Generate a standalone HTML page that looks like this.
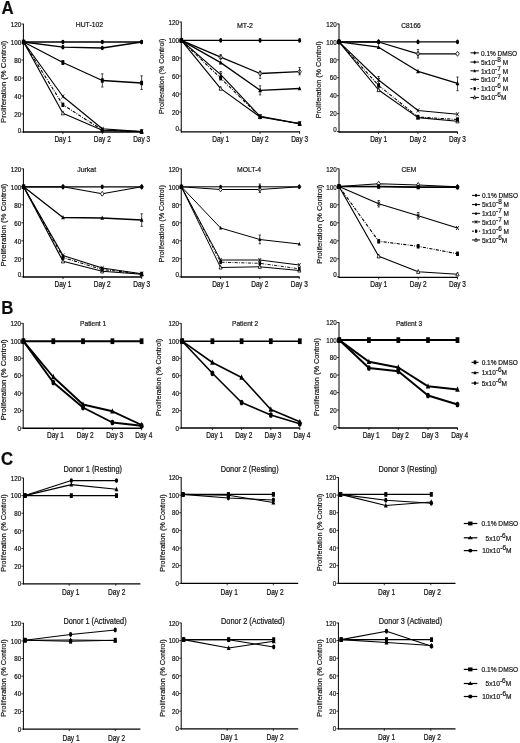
<!DOCTYPE html>
<html><head><meta charset="utf-8"><style>
html,body{margin:0;padding:0;background:#fff;}
body{width:520px;height:743px;overflow:hidden;}
svg{display:block;filter:grayscale(1);}
text{font-family:"Liberation Sans", sans-serif;fill:#111;stroke:#111;stroke-width:0.18px;}
</style></head><body>
<svg width="520" height="743" viewBox="0 0 520 743">
<defs><filter id="bl" x="0" y="0" width="100%" height="100%" filterUnits="userSpaceOnUse"><feGaussianBlur stdDeviation="0.4"/></filter></defs>
<rect width="520" height="743" fill="#fff"/>
<g filter="url(#bl)">
<text x="0" y="0" transform="translate(1.60,13.60) scale(1,1.08)" font-size="16.8" text-anchor="start" font-weight="bold" >A</text>
<text x="0" y="0" transform="translate(1.20,313.60) scale(1,1.08)" font-size="16.8" text-anchor="start" font-weight="bold" >B</text>
<text x="0" y="0" transform="translate(1.00,465.00) scale(1,1.08)" font-size="16.8" text-anchor="start" font-weight="bold" >C</text>
<line x1="23.40" y1="23.70" x2="23.40" y2="132.60" stroke="#000" stroke-width="1.0"/>
<line x1="21.40" y1="24.00" x2="23.40" y2="24.00" stroke="#000" stroke-width="0.8"/>
<text x="0" y="0" transform="translate(21.20,26.71) scale(1,1.2)" font-size="6.3" text-anchor="end" font-weight="normal" >120</text>
<line x1="21.40" y1="42.00" x2="23.40" y2="42.00" stroke="#000" stroke-width="0.8"/>
<text x="0" y="0" transform="translate(21.20,44.71) scale(1,1.2)" font-size="6.3" text-anchor="end" font-weight="normal" >100</text>
<line x1="21.40" y1="60.00" x2="23.40" y2="60.00" stroke="#000" stroke-width="0.8"/>
<text x="0" y="0" transform="translate(21.20,62.71) scale(1,1.2)" font-size="6.3" text-anchor="end" font-weight="normal" >80</text>
<line x1="21.40" y1="78.00" x2="23.40" y2="78.00" stroke="#000" stroke-width="0.8"/>
<text x="0" y="0" transform="translate(21.20,80.71) scale(1,1.2)" font-size="6.3" text-anchor="end" font-weight="normal" >60</text>
<line x1="21.40" y1="96.00" x2="23.40" y2="96.00" stroke="#000" stroke-width="0.8"/>
<text x="0" y="0" transform="translate(21.20,98.71) scale(1,1.2)" font-size="6.3" text-anchor="end" font-weight="normal" >40</text>
<line x1="21.40" y1="114.00" x2="23.40" y2="114.00" stroke="#000" stroke-width="0.8"/>
<text x="0" y="0" transform="translate(21.20,116.71) scale(1,1.2)" font-size="6.3" text-anchor="end" font-weight="normal" >20</text>
<line x1="21.40" y1="132.00" x2="23.40" y2="132.00" stroke="#000" stroke-width="0.8"/>
<text x="0" y="0" transform="translate(21.20,132.51) scale(1,1.2)" font-size="6.3" text-anchor="end" font-weight="normal" >0</text>
<line x1="23.00" y1="132.00" x2="141.90" y2="132.00" stroke="#000" stroke-width="1.3"/>
<line x1="62.90" y1="132.00" x2="62.90" y2="134.00" stroke="#000" stroke-width="0.8"/>
<text x="0" y="0" transform="translate(62.90,141.80) scale(1,1.3)" font-size="6.5" text-anchor="middle" font-weight="normal" >Day 1</text>
<line x1="102.30" y1="132.00" x2="102.30" y2="134.00" stroke="#000" stroke-width="0.8"/>
<text x="0" y="0" transform="translate(102.30,141.80) scale(1,1.3)" font-size="6.5" text-anchor="middle" font-weight="normal" >Day 2</text>
<line x1="141.60" y1="132.00" x2="141.60" y2="134.00" stroke="#000" stroke-width="0.8"/>
<text x="0" y="0" transform="translate(141.60,141.80) scale(1,1.3)" font-size="6.5" text-anchor="middle" font-weight="normal" >Day 3</text>
<text x="0" y="0" transform="translate(75.80,27.40) scale(1,1.12)" font-size="7.0" text-anchor="start" font-weight="normal" textLength="27.20" lengthAdjust="spacingAndGlyphs" >HUT-102</text>
<text x="-122.90" y="0" font-size="6.5" text-anchor="start" textLength="82.10" lengthAdjust="spacingAndGlyphs" transform="translate(5.93,0) rotate(-90)">Proliferation (% Control)</text>
<polyline points="23.60,42.00 62.90,42.00 102.30,42.00 141.60,42.00" fill="none" stroke="#000" stroke-width="1.3" stroke-linejoin="round"/>
<polyline points="23.60,42.00 62.90,47.20 102.30,48.00 141.60,42.00" fill="none" stroke="#000" stroke-width="1.3" stroke-linejoin="round"/>
<polyline points="23.60,42.00 62.90,62.50 102.30,80.50 141.60,83.00" fill="none" stroke="#000" stroke-width="1.3" stroke-linejoin="round"/>
<polyline points="23.60,42.00 62.90,96.50 102.30,128.80 141.60,131.60" fill="none" stroke="#000" stroke-width="1.15" stroke-linejoin="round"/>
<polyline points="23.60,42.00 62.90,104.80 102.30,130.00 141.60,131.60" fill="none" stroke="#000" stroke-width="1.1" stroke-linejoin="round" stroke-dasharray="3.2,1.3,0.8,1.3"/>
<polyline points="23.60,42.00 62.90,113.20 102.30,130.20 141.60,131.60" fill="none" stroke="#000" stroke-width="1.15" stroke-linejoin="round"/>
<polygon points="23.60,39.71 25.23,43.66 21.97,43.66" fill="#fff" stroke="#000" stroke-width="0.8"/>
<polygon points="62.90,110.91 64.53,114.86 61.27,114.86" fill="#fff" stroke="#000" stroke-width="0.8"/>
<polygon points="102.30,127.91 103.93,131.86 100.67,131.86" fill="#fff" stroke="#000" stroke-width="0.8"/>
<polygon points="141.60,129.31 143.23,133.26 139.97,133.26" fill="#fff" stroke="#000" stroke-width="0.8"/>
<ellipse cx="23.60" cy="42.00" rx="1.53" ry="2.34" fill="#000"/>
<ellipse cx="62.90" cy="42.00" rx="1.53" ry="2.34" fill="#000"/>
<ellipse cx="102.30" cy="42.00" rx="1.53" ry="2.34" fill="#000"/>
<ellipse cx="141.60" cy="42.00" rx="1.53" ry="2.34" fill="#000"/>
<ellipse cx="23.60" cy="42.00" rx="1.53" ry="2.34" fill="#000"/>
<ellipse cx="62.90" cy="47.20" rx="1.53" ry="2.34" fill="#000"/>
<ellipse cx="102.30" cy="48.00" rx="1.53" ry="2.34" fill="#000"/>
<ellipse cx="141.60" cy="42.00" rx="1.53" ry="2.34" fill="#000"/>
<rect x="22.16" y="39.79" width="2.89" height="4.42" fill="#000"/>
<rect x="61.45" y="60.29" width="2.89" height="4.42" fill="#000"/>
<rect x="100.86" y="78.29" width="2.89" height="4.42" fill="#000"/>
<rect x="140.16" y="80.79" width="2.89" height="4.42" fill="#000"/>
<line x1="102.30" y1="73.80" x2="102.30" y2="87.00" stroke="#000" stroke-width="0.7"/>
<line x1="101.10" y1="73.80" x2="103.50" y2="73.80" stroke="#000" stroke-width="0.7"/>
<line x1="101.10" y1="87.00" x2="103.50" y2="87.00" stroke="#000" stroke-width="0.7"/>
<line x1="141.60" y1="75.80" x2="141.60" y2="89.50" stroke="#000" stroke-width="0.7"/>
<line x1="140.40" y1="75.80" x2="142.80" y2="75.80" stroke="#000" stroke-width="0.7"/>
<line x1="140.40" y1="89.50" x2="142.80" y2="89.50" stroke="#000" stroke-width="0.7"/>
<line x1="62.90" y1="60.50" x2="62.90" y2="64.50" stroke="#000" stroke-width="0.7"/>
<line x1="61.70" y1="60.50" x2="64.10" y2="60.50" stroke="#000" stroke-width="0.7"/>
<line x1="61.70" y1="64.50" x2="64.10" y2="64.50" stroke="#000" stroke-width="0.7"/>
<path d="M22.24,39.92L24.96,44.08M24.96,39.92L22.24,44.08" stroke="#000" stroke-width="0.8"/>
<path d="M61.54,94.42L64.26,98.58M64.26,94.42L61.54,98.58" stroke="#000" stroke-width="0.8"/>
<path d="M100.94,126.72L103.66,130.88M103.66,126.72L100.94,130.88" stroke="#000" stroke-width="0.8"/>
<path d="M140.24,129.52L142.96,133.68M142.96,129.52L140.24,133.68" stroke="#000" stroke-width="0.8"/>
<rect x="22.16" y="39.79" width="2.89" height="4.42" fill="#000"/>
<rect x="61.45" y="102.59" width="2.89" height="4.42" fill="#000"/>
<rect x="100.86" y="127.79" width="2.89" height="4.42" fill="#000"/>
<rect x="140.16" y="129.39" width="2.89" height="4.42" fill="#000"/>
<rect x="21.90" y="40.00" width="3.4" height="4.0" fill="#000"/>
<line x1="181.25" y1="21.70" x2="181.25" y2="132.50" stroke="#000" stroke-width="1.0"/>
<line x1="179.25" y1="22.00" x2="181.25" y2="22.00" stroke="#000" stroke-width="0.8"/>
<text x="0" y="0" transform="translate(179.05,24.71) scale(1,1.2)" font-size="6.3" text-anchor="end" font-weight="normal" >120</text>
<line x1="179.25" y1="40.00" x2="181.25" y2="40.00" stroke="#000" stroke-width="0.8"/>
<text x="0" y="0" transform="translate(179.05,42.71) scale(1,1.2)" font-size="6.3" text-anchor="end" font-weight="normal" >100</text>
<line x1="179.25" y1="58.00" x2="181.25" y2="58.00" stroke="#000" stroke-width="0.8"/>
<text x="0" y="0" transform="translate(179.05,60.71) scale(1,1.2)" font-size="6.3" text-anchor="end" font-weight="normal" >80</text>
<line x1="179.25" y1="76.00" x2="181.25" y2="76.00" stroke="#000" stroke-width="0.8"/>
<text x="0" y="0" transform="translate(179.05,78.71) scale(1,1.2)" font-size="6.3" text-anchor="end" font-weight="normal" >60</text>
<line x1="179.25" y1="94.00" x2="181.25" y2="94.00" stroke="#000" stroke-width="0.8"/>
<text x="0" y="0" transform="translate(179.05,96.71) scale(1,1.2)" font-size="6.3" text-anchor="end" font-weight="normal" >40</text>
<line x1="179.25" y1="112.00" x2="181.25" y2="112.00" stroke="#000" stroke-width="0.8"/>
<text x="0" y="0" transform="translate(179.05,114.71) scale(1,1.2)" font-size="6.3" text-anchor="end" font-weight="normal" >20</text>
<line x1="179.25" y1="130.00" x2="181.25" y2="130.00" stroke="#000" stroke-width="0.8"/>
<text x="0" y="0" transform="translate(179.05,130.51) scale(1,1.2)" font-size="6.3" text-anchor="end" font-weight="normal" >0</text>
<line x1="180.85" y1="131.90" x2="300.00" y2="131.90" stroke="#000" stroke-width="1.3"/>
<line x1="220.70" y1="131.90" x2="220.70" y2="133.90" stroke="#000" stroke-width="0.8"/>
<text x="0" y="0" transform="translate(220.70,141.70) scale(1,1.3)" font-size="6.5" text-anchor="middle" font-weight="normal" >Day 1</text>
<line x1="260.10" y1="131.90" x2="260.10" y2="133.90" stroke="#000" stroke-width="0.8"/>
<text x="0" y="0" transform="translate(260.10,141.70) scale(1,1.3)" font-size="6.5" text-anchor="middle" font-weight="normal" >Day 2</text>
<line x1="299.60" y1="131.90" x2="299.60" y2="133.90" stroke="#000" stroke-width="0.8"/>
<text x="0" y="0" transform="translate(299.60,141.70) scale(1,1.3)" font-size="6.5" text-anchor="middle" font-weight="normal" >Day 3</text>
<text x="0" y="0" transform="translate(237.00,27.50) scale(1,1.12)" font-size="7.0" text-anchor="start" font-weight="normal" textLength="16.00" lengthAdjust="spacingAndGlyphs" >MT-2</text>
<text x="-114.10" y="0" font-size="6.5" text-anchor="start" textLength="75.35" lengthAdjust="spacingAndGlyphs" transform="translate(164.03,0) rotate(-90)">Proliferation (% Control)</text>
<polyline points="181.40,40.40 220.70,40.40 260.10,40.40 299.60,40.40" fill="none" stroke="#000" stroke-width="1.3" stroke-linejoin="round"/>
<polyline points="181.40,40.40 220.70,57.20 260.10,73.50 299.60,71.70" fill="none" stroke="#000" stroke-width="1.3" stroke-linejoin="round"/>
<polyline points="181.40,40.40 220.70,62.60 260.10,90.30 299.60,88.50" fill="none" stroke="#000" stroke-width="1.3" stroke-linejoin="round"/>
<polyline points="181.40,40.40 220.70,74.60 260.10,116.30 299.60,123.60" fill="none" stroke="#000" stroke-width="1.15" stroke-linejoin="round"/>
<polyline points="181.40,40.40 220.70,78.20 260.10,116.60 299.60,123.60" fill="none" stroke="#000" stroke-width="1.1" stroke-linejoin="round" stroke-dasharray="3.2,1.3,0.8,1.3"/>
<polyline points="181.40,40.40 220.70,88.60 260.10,117.00 299.60,123.80" fill="none" stroke="#000" stroke-width="1.15" stroke-linejoin="round"/>
<polygon points="181.40,37.90 183.17,40.40 181.40,42.90 179.63,40.40" fill="#fff" stroke="#000" stroke-width="0.8"/>
<polygon points="220.70,54.70 222.47,57.20 220.70,59.70 218.93,57.20" fill="#fff" stroke="#000" stroke-width="0.8"/>
<polygon points="260.10,71.00 261.87,73.50 260.10,76.00 258.33,73.50" fill="#fff" stroke="#000" stroke-width="0.8"/>
<polygon points="299.60,69.20 301.37,71.70 299.60,74.20 297.83,71.70" fill="#fff" stroke="#000" stroke-width="0.8"/>
<polygon points="181.40,38.11 183.03,42.06 179.77,42.06" fill="#fff" stroke="#000" stroke-width="0.8"/>
<polygon points="220.70,86.31 222.33,90.26 219.07,90.26" fill="#fff" stroke="#000" stroke-width="0.8"/>
<polygon points="260.10,114.71 261.73,118.66 258.47,118.66" fill="#fff" stroke="#000" stroke-width="0.8"/>
<polygon points="299.60,121.51 301.23,125.46 297.97,125.46" fill="#fff" stroke="#000" stroke-width="0.8"/>
<ellipse cx="181.40" cy="40.40" rx="1.53" ry="2.34" fill="#000"/>
<ellipse cx="220.70" cy="40.40" rx="1.53" ry="2.34" fill="#000"/>
<ellipse cx="260.10" cy="40.40" rx="1.53" ry="2.34" fill="#000"/>
<ellipse cx="299.60" cy="40.40" rx="1.53" ry="2.34" fill="#000"/>
<line x1="220.70" y1="54.70" x2="220.70" y2="58.80" stroke="#000" stroke-width="0.7"/>
<line x1="219.50" y1="54.70" x2="221.90" y2="54.70" stroke="#000" stroke-width="0.7"/>
<line x1="219.50" y1="58.80" x2="221.90" y2="58.80" stroke="#000" stroke-width="0.7"/>
<line x1="260.10" y1="71.10" x2="260.10" y2="78.40" stroke="#000" stroke-width="0.7"/>
<line x1="258.90" y1="71.10" x2="261.30" y2="71.10" stroke="#000" stroke-width="0.7"/>
<line x1="258.90" y1="78.40" x2="261.30" y2="78.40" stroke="#000" stroke-width="0.7"/>
<line x1="299.60" y1="67.50" x2="299.60" y2="74.80" stroke="#000" stroke-width="0.7"/>
<line x1="298.40" y1="67.50" x2="300.80" y2="67.50" stroke="#000" stroke-width="0.7"/>
<line x1="298.40" y1="74.80" x2="300.80" y2="74.80" stroke="#000" stroke-width="0.7"/>
<polygon points="181.40,37.83 183.24,42.27 179.56,42.27" fill="#000"/>
<polygon points="220.70,60.03 222.54,64.47 218.86,64.47" fill="#000"/>
<polygon points="260.10,87.73 261.94,92.17 258.26,92.17" fill="#000"/>
<polygon points="299.60,85.93 301.44,90.37 297.76,90.37" fill="#000"/>
<line x1="260.10" y1="85.80" x2="260.10" y2="94.90" stroke="#000" stroke-width="0.7"/>
<line x1="258.90" y1="85.80" x2="261.30" y2="85.80" stroke="#000" stroke-width="0.7"/>
<line x1="258.90" y1="94.90" x2="261.30" y2="94.90" stroke="#000" stroke-width="0.7"/>
<path d="M180.04,38.32L182.76,42.48M182.76,38.32L180.04,42.48" stroke="#000" stroke-width="0.8"/>
<path d="M219.34,72.52L222.06,76.68M222.06,72.52L219.34,76.68" stroke="#000" stroke-width="0.8"/>
<path d="M258.74,114.22L261.46,118.38M261.46,114.22L258.74,118.38" stroke="#000" stroke-width="0.8"/>
<path d="M298.24,121.52L300.96,125.68M300.96,121.52L298.24,125.68" stroke="#000" stroke-width="0.8"/>
<line x1="220.70" y1="71.50" x2="220.70" y2="78.00" stroke="#000" stroke-width="0.7"/>
<line x1="219.50" y1="71.50" x2="221.90" y2="71.50" stroke="#000" stroke-width="0.7"/>
<line x1="219.50" y1="78.00" x2="221.90" y2="78.00" stroke="#000" stroke-width="0.7"/>
<rect x="179.96" y="38.19" width="2.89" height="4.42" fill="#000"/>
<rect x="219.25" y="75.99" width="2.89" height="4.42" fill="#000"/>
<rect x="258.66" y="114.39" width="2.89" height="4.42" fill="#000"/>
<rect x="298.16" y="121.39" width="2.89" height="4.42" fill="#000"/>
<rect x="179.70" y="38.40" width="3.4" height="4.0" fill="#000"/>
<line x1="339.00" y1="23.66" x2="339.00" y2="132.60" stroke="#000" stroke-width="1.0"/>
<line x1="337.00" y1="23.96" x2="339.00" y2="23.96" stroke="#000" stroke-width="0.8"/>
<text x="0" y="0" transform="translate(336.80,26.67) scale(1,1.2)" font-size="6.3" text-anchor="end" font-weight="normal" >120</text>
<line x1="337.00" y1="41.90" x2="339.00" y2="41.90" stroke="#000" stroke-width="0.8"/>
<text x="0" y="0" transform="translate(336.80,44.61) scale(1,1.2)" font-size="6.3" text-anchor="end" font-weight="normal" >100</text>
<line x1="337.00" y1="59.84" x2="339.00" y2="59.84" stroke="#000" stroke-width="0.8"/>
<text x="0" y="0" transform="translate(336.80,62.55) scale(1,1.2)" font-size="6.3" text-anchor="end" font-weight="normal" >80</text>
<line x1="337.00" y1="77.78" x2="339.00" y2="77.78" stroke="#000" stroke-width="0.8"/>
<text x="0" y="0" transform="translate(336.80,80.49) scale(1,1.2)" font-size="6.3" text-anchor="end" font-weight="normal" >60</text>
<line x1="337.00" y1="95.72" x2="339.00" y2="95.72" stroke="#000" stroke-width="0.8"/>
<text x="0" y="0" transform="translate(336.80,98.43) scale(1,1.2)" font-size="6.3" text-anchor="end" font-weight="normal" >40</text>
<line x1="337.00" y1="113.66" x2="339.00" y2="113.66" stroke="#000" stroke-width="0.8"/>
<text x="0" y="0" transform="translate(336.80,116.37) scale(1,1.2)" font-size="6.3" text-anchor="end" font-weight="normal" >20</text>
<line x1="337.00" y1="131.60" x2="339.00" y2="131.60" stroke="#000" stroke-width="0.8"/>
<text x="0" y="0" transform="translate(336.80,132.11) scale(1,1.2)" font-size="6.3" text-anchor="end" font-weight="normal" >0</text>
<line x1="338.60" y1="132.00" x2="457.80" y2="132.00" stroke="#000" stroke-width="1.3"/>
<line x1="378.60" y1="132.00" x2="378.60" y2="134.00" stroke="#000" stroke-width="0.8"/>
<text x="0" y="0" transform="translate(378.60,141.80) scale(1,1.3)" font-size="6.5" text-anchor="middle" font-weight="normal" >Day 1</text>
<line x1="418.00" y1="132.00" x2="418.00" y2="134.00" stroke="#000" stroke-width="0.8"/>
<text x="0" y="0" transform="translate(418.00,141.80) scale(1,1.3)" font-size="6.5" text-anchor="middle" font-weight="normal" >Day 2</text>
<line x1="457.50" y1="132.00" x2="457.50" y2="134.00" stroke="#000" stroke-width="0.8"/>
<text x="0" y="0" transform="translate(457.50,141.80) scale(1,1.3)" font-size="6.5" text-anchor="middle" font-weight="normal" >Day 3</text>
<text x="0" y="0" transform="translate(401.30,27.50) scale(1,1.12)" font-size="7.0" text-anchor="start" font-weight="normal" textLength="19.50" lengthAdjust="spacingAndGlyphs" >C8166</text>
<text x="-118.20" y="0" font-size="6.5" text-anchor="start" textLength="76.80" lengthAdjust="spacingAndGlyphs" transform="translate(321.44,0) rotate(-90)">Proliferation (% Control)</text>
<polyline points="339.00,41.90 378.60,41.90 418.00,41.90 457.50,41.90" fill="none" stroke="#000" stroke-width="1.3" stroke-linejoin="round"/>
<polyline points="339.00,41.90 378.60,42.00 418.00,53.80 457.50,53.80" fill="none" stroke="#000" stroke-width="1.3" stroke-linejoin="round"/>
<polyline points="339.00,41.90 378.60,47.20 418.00,71.30 457.50,83.30" fill="none" stroke="#000" stroke-width="1.3" stroke-linejoin="round"/>
<polyline points="339.00,41.90 378.60,80.00 418.00,110.50 457.50,114.30" fill="none" stroke="#000" stroke-width="1.15" stroke-linejoin="round"/>
<polyline points="339.00,41.90 378.60,85.50 418.00,117.00 457.50,119.50" fill="none" stroke="#000" stroke-width="1.1" stroke-linejoin="round" stroke-dasharray="3.2,1.3,0.8,1.3"/>
<polyline points="339.00,41.90 378.60,90.00 418.00,117.60 457.50,121.20" fill="none" stroke="#000" stroke-width="1.15" stroke-linejoin="round"/>
<polygon points="339.00,39.40 340.77,41.90 339.00,44.40 337.23,41.90" fill="#fff" stroke="#000" stroke-width="0.8"/>
<polygon points="378.60,39.50 380.37,42.00 378.60,44.50 376.83,42.00" fill="#fff" stroke="#000" stroke-width="0.8"/>
<polygon points="418.00,51.30 419.77,53.80 418.00,56.30 416.23,53.80" fill="#fff" stroke="#000" stroke-width="0.8"/>
<polygon points="457.50,51.30 459.27,53.80 457.50,56.30 455.73,53.80" fill="#fff" stroke="#000" stroke-width="0.8"/>
<polygon points="339.00,39.61 340.63,43.56 337.37,43.56" fill="#fff" stroke="#000" stroke-width="0.8"/>
<polygon points="378.60,87.71 380.23,91.66 376.97,91.66" fill="#fff" stroke="#000" stroke-width="0.8"/>
<polygon points="418.00,115.31 419.63,119.26 416.37,119.26" fill="#fff" stroke="#000" stroke-width="0.8"/>
<polygon points="457.50,118.91 459.13,122.86 455.87,122.86" fill="#fff" stroke="#000" stroke-width="0.8"/>
<ellipse cx="339.00" cy="41.90" rx="1.53" ry="2.34" fill="#000"/>
<ellipse cx="378.60" cy="41.90" rx="1.53" ry="2.34" fill="#000"/>
<ellipse cx="418.00" cy="41.90" rx="1.53" ry="2.34" fill="#000"/>
<ellipse cx="457.50" cy="41.90" rx="1.53" ry="2.34" fill="#000"/>
<line x1="418.00" y1="49.50" x2="418.00" y2="58.00" stroke="#000" stroke-width="0.7"/>
<line x1="416.80" y1="49.50" x2="419.20" y2="49.50" stroke="#000" stroke-width="0.7"/>
<line x1="416.80" y1="58.00" x2="419.20" y2="58.00" stroke="#000" stroke-width="0.7"/>
<polygon points="339.00,39.33 340.84,43.77 337.16,43.77" fill="#000"/>
<polygon points="378.60,44.63 380.44,49.07 376.76,49.07" fill="#000"/>
<polygon points="418.00,68.73 419.84,73.17 416.16,73.17" fill="#000"/>
<polygon points="457.50,80.73 459.34,85.17 455.66,85.17" fill="#000"/>
<line x1="457.50" y1="77.00" x2="457.50" y2="90.70" stroke="#000" stroke-width="0.7"/>
<line x1="456.30" y1="77.00" x2="458.70" y2="77.00" stroke="#000" stroke-width="0.7"/>
<line x1="456.30" y1="90.70" x2="458.70" y2="90.70" stroke="#000" stroke-width="0.7"/>
<path d="M337.64,39.82L340.36,43.98M340.36,39.82L337.64,43.98" stroke="#000" stroke-width="0.8"/>
<path d="M377.24,77.92L379.96,82.08M379.96,77.92L377.24,82.08" stroke="#000" stroke-width="0.8"/>
<path d="M416.64,108.42L419.36,112.58M419.36,108.42L416.64,112.58" stroke="#000" stroke-width="0.8"/>
<path d="M456.14,112.22L458.86,116.38M458.86,112.22L456.14,116.38" stroke="#000" stroke-width="0.8"/>
<line x1="378.60" y1="76.50" x2="378.60" y2="83.50" stroke="#000" stroke-width="0.7"/>
<line x1="377.40" y1="76.50" x2="379.80" y2="76.50" stroke="#000" stroke-width="0.7"/>
<line x1="377.40" y1="83.50" x2="379.80" y2="83.50" stroke="#000" stroke-width="0.7"/>
<rect x="337.56" y="39.69" width="2.89" height="4.42" fill="#000"/>
<rect x="377.16" y="83.29" width="2.89" height="4.42" fill="#000"/>
<rect x="416.56" y="114.79" width="2.89" height="4.42" fill="#000"/>
<rect x="456.06" y="117.29" width="2.89" height="4.42" fill="#000"/>
<rect x="337.30" y="39.90" width="3.4" height="4.0" fill="#000"/>
<line x1="470.40" y1="52.90" x2="478.90" y2="52.90" stroke="#000" stroke-width="1.0"/>
<ellipse cx="474.65" cy="52.90" rx="1.06" ry="1.62" fill="#000"/>
<text x="0" y="0" transform="translate(481.00,55.59) scale(1,1.15)" font-size="6.5" text-anchor="start" font-weight="normal" >0.1% DMSO</text>
<line x1="470.40" y1="62.05" x2="478.90" y2="62.05" stroke="#000" stroke-width="1.0"/>
<ellipse cx="474.65" cy="62.05" rx="1.06" ry="1.62" fill="#000"/>
<text x="0" y="0" transform="translate(481.00,64.74) scale(1,1.15)" font-size="6.5" text-anchor="start" font-weight="normal" >5x10<tspan dy="-2.6" font-size="6.50">-8</tspan><tspan dy="2.6"> M</tspan></text>
<line x1="470.40" y1="70.85" x2="478.90" y2="70.85" stroke="#000" stroke-width="1.0"/>
<polygon points="474.65,69.06 475.92,72.15 473.38,72.15" fill="#000"/>
<text x="0" y="0" transform="translate(481.00,73.54) scale(1,1.15)" font-size="6.5" text-anchor="start" font-weight="normal" >1x10<tspan dy="-2.6" font-size="6.50">-7</tspan><tspan dy="2.6"> M</tspan></text>
<line x1="470.40" y1="79.40" x2="478.90" y2="79.40" stroke="#000" stroke-width="1.0"/>
<path d="M473.59,77.78L475.71,81.03M475.71,77.78L473.59,81.03" stroke="#000" stroke-width="0.8"/>
<text x="0" y="0" transform="translate(481.00,82.09) scale(1,1.15)" font-size="6.5" text-anchor="start" font-weight="normal" >5x10<tspan dy="-2.6" font-size="6.50">-7</tspan><tspan dy="2.6"> M</tspan></text>
<line x1="470.40" y1="88.70" x2="478.90" y2="88.70" stroke="#000" stroke-width="1.0" stroke-dasharray="2,1.5"/>
<rect x="473.59" y="87.07" width="2.12" height="3.25" fill="#000"/>
<text x="0" y="0" transform="translate(481.00,91.39) scale(1,1.15)" font-size="6.5" text-anchor="start" font-weight="normal" >1x10<tspan dy="-2.6" font-size="6.50">-6</tspan><tspan dy="2.6"> M</tspan></text>
<line x1="470.40" y1="97.45" x2="478.90" y2="97.45" stroke="#000" stroke-width="1.0"/>
<polygon points="474.65,95.66 475.92,98.75 473.38,98.75" fill="#fff" stroke="#000" stroke-width="0.8"/>
<text x="0" y="0" transform="translate(481.00,100.14) scale(1,1.15)" font-size="6.5" text-anchor="start" font-weight="normal" >5x10<tspan dy="-2.6" font-size="6.50">-6</tspan><tspan dy="2.6">M</tspan></text>
<line x1="23.40" y1="168.50" x2="23.40" y2="277.60" stroke="#000" stroke-width="1.0"/>
<line x1="21.40" y1="168.80" x2="23.40" y2="168.80" stroke="#000" stroke-width="0.8"/>
<text x="0" y="0" transform="translate(21.20,171.51) scale(1,1.2)" font-size="6.3" text-anchor="end" font-weight="normal" >120</text>
<line x1="21.40" y1="186.80" x2="23.40" y2="186.80" stroke="#000" stroke-width="0.8"/>
<text x="0" y="0" transform="translate(21.20,189.51) scale(1,1.2)" font-size="6.3" text-anchor="end" font-weight="normal" >100</text>
<line x1="21.40" y1="204.80" x2="23.40" y2="204.80" stroke="#000" stroke-width="0.8"/>
<text x="0" y="0" transform="translate(21.20,207.51) scale(1,1.2)" font-size="6.3" text-anchor="end" font-weight="normal" >80</text>
<line x1="21.40" y1="222.80" x2="23.40" y2="222.80" stroke="#000" stroke-width="0.8"/>
<text x="0" y="0" transform="translate(21.20,225.51) scale(1,1.2)" font-size="6.3" text-anchor="end" font-weight="normal" >60</text>
<line x1="21.40" y1="240.80" x2="23.40" y2="240.80" stroke="#000" stroke-width="0.8"/>
<text x="0" y="0" transform="translate(21.20,243.51) scale(1,1.2)" font-size="6.3" text-anchor="end" font-weight="normal" >40</text>
<line x1="21.40" y1="258.80" x2="23.40" y2="258.80" stroke="#000" stroke-width="0.8"/>
<text x="0" y="0" transform="translate(21.20,261.51) scale(1,1.2)" font-size="6.3" text-anchor="end" font-weight="normal" >20</text>
<line x1="21.40" y1="276.80" x2="23.40" y2="276.80" stroke="#000" stroke-width="0.8"/>
<text x="0" y="0" transform="translate(21.20,277.31) scale(1,1.2)" font-size="6.3" text-anchor="end" font-weight="normal" >0</text>
<line x1="23.00" y1="277.00" x2="141.90" y2="277.00" stroke="#000" stroke-width="1.3"/>
<line x1="63.00" y1="277.00" x2="63.00" y2="279.00" stroke="#000" stroke-width="0.8"/>
<text x="0" y="0" transform="translate(63.00,286.80) scale(1,1.3)" font-size="6.5" text-anchor="middle" font-weight="normal" >Day 1</text>
<line x1="102.20" y1="277.00" x2="102.20" y2="279.00" stroke="#000" stroke-width="0.8"/>
<text x="0" y="0" transform="translate(102.20,286.80) scale(1,1.3)" font-size="6.5" text-anchor="middle" font-weight="normal" >Day 2</text>
<line x1="141.70" y1="277.00" x2="141.70" y2="279.00" stroke="#000" stroke-width="0.8"/>
<text x="0" y="0" transform="translate(141.70,286.80) scale(1,1.3)" font-size="6.5" text-anchor="middle" font-weight="normal" >Day 3</text>
<text x="0" y="0" transform="translate(77.20,172.20) scale(1,1.12)" font-size="7.0" text-anchor="start" font-weight="normal" textLength="18.90" lengthAdjust="spacingAndGlyphs" >Jurkat</text>
<text x="-266.50" y="0" font-size="6.5" text-anchor="start" textLength="82.75" lengthAdjust="spacingAndGlyphs" transform="translate(5.93,0) rotate(-90)">Proliferation (% Control)</text>
<polyline points="23.60,186.80 63.00,186.80 102.20,186.80 141.70,186.80" fill="none" stroke="#000" stroke-width="1.3" stroke-linejoin="round"/>
<polyline points="23.60,186.80 63.00,186.80 102.20,193.80 141.70,186.80" fill="none" stroke="#000" stroke-width="1.15" stroke-linejoin="round"/>
<polyline points="23.60,186.80 63.00,217.50 102.20,218.00 141.70,220.00" fill="none" stroke="#000" stroke-width="1.3" stroke-linejoin="round"/>
<polyline points="23.60,186.80 63.00,255.50 102.20,268.00 141.70,273.80" fill="none" stroke="#000" stroke-width="1.15" stroke-linejoin="round"/>
<polyline points="23.60,186.80 63.00,257.50 102.20,269.50 141.70,274.00" fill="none" stroke="#000" stroke-width="1.1" stroke-linejoin="round" stroke-dasharray="3.2,1.3,0.8,1.3"/>
<polyline points="23.60,186.80 63.00,261.30 102.20,271.30 141.70,274.30" fill="none" stroke="#000" stroke-width="1.15" stroke-linejoin="round"/>
<polygon points="23.60,184.30 25.37,186.80 23.60,189.30 21.83,186.80" fill="#fff" stroke="#000" stroke-width="0.8"/>
<polygon points="63.00,184.30 64.77,186.80 63.00,189.30 61.23,186.80" fill="#fff" stroke="#000" stroke-width="0.8"/>
<polygon points="102.20,191.30 103.97,193.80 102.20,196.30 100.43,193.80" fill="#fff" stroke="#000" stroke-width="0.8"/>
<polygon points="141.70,184.30 143.47,186.80 141.70,189.30 139.93,186.80" fill="#fff" stroke="#000" stroke-width="0.8"/>
<polygon points="23.60,184.51 25.23,188.46 21.97,188.46" fill="#fff" stroke="#000" stroke-width="0.8"/>
<polygon points="63.00,259.01 64.63,262.96 61.37,262.96" fill="#fff" stroke="#000" stroke-width="0.8"/>
<polygon points="102.20,269.01 103.83,272.96 100.57,272.96" fill="#fff" stroke="#000" stroke-width="0.8"/>
<polygon points="141.70,272.01 143.33,275.96 140.07,275.96" fill="#fff" stroke="#000" stroke-width="0.8"/>
<ellipse cx="23.60" cy="186.80" rx="1.53" ry="2.34" fill="#000"/>
<ellipse cx="63.00" cy="186.80" rx="1.53" ry="2.34" fill="#000"/>
<ellipse cx="102.20" cy="186.80" rx="1.53" ry="2.34" fill="#000"/>
<ellipse cx="141.70" cy="186.80" rx="1.53" ry="2.34" fill="#000"/>
<polygon points="23.60,184.23 25.44,188.67 21.76,188.67" fill="#000"/>
<polygon points="63.00,214.93 64.84,219.37 61.16,219.37" fill="#000"/>
<polygon points="102.20,215.43 104.04,219.87 100.36,219.87" fill="#000"/>
<polygon points="141.70,217.43 143.54,221.87 139.86,221.87" fill="#000"/>
<line x1="141.70" y1="213.80" x2="141.70" y2="226.30" stroke="#000" stroke-width="0.7"/>
<line x1="140.50" y1="213.80" x2="142.90" y2="213.80" stroke="#000" stroke-width="0.7"/>
<line x1="140.50" y1="226.30" x2="142.90" y2="226.30" stroke="#000" stroke-width="0.7"/>
<path d="M22.24,184.72L24.96,188.88M24.96,184.72L22.24,188.88" stroke="#000" stroke-width="0.8"/>
<path d="M61.64,253.42L64.36,257.58M64.36,253.42L61.64,257.58" stroke="#000" stroke-width="0.8"/>
<path d="M100.84,265.92L103.56,270.08M103.56,265.92L100.84,270.08" stroke="#000" stroke-width="0.8"/>
<path d="M140.34,271.72L143.06,275.88M143.06,271.72L140.34,275.88" stroke="#000" stroke-width="0.8"/>
<rect x="22.16" y="184.59" width="2.89" height="4.42" fill="#000"/>
<rect x="61.55" y="255.29" width="2.89" height="4.42" fill="#000"/>
<rect x="100.76" y="267.29" width="2.89" height="4.42" fill="#000"/>
<rect x="140.25" y="271.79" width="2.89" height="4.42" fill="#000"/>
<rect x="21.90" y="184.80" width="3.4" height="4.0" fill="#000"/>
<line x1="181.25" y1="168.50" x2="181.25" y2="277.60" stroke="#000" stroke-width="1.0"/>
<line x1="179.25" y1="168.80" x2="181.25" y2="168.80" stroke="#000" stroke-width="0.8"/>
<text x="0" y="0" transform="translate(179.05,171.51) scale(1,1.2)" font-size="6.3" text-anchor="end" font-weight="normal" >120</text>
<line x1="179.25" y1="186.80" x2="181.25" y2="186.80" stroke="#000" stroke-width="0.8"/>
<text x="0" y="0" transform="translate(179.05,189.51) scale(1,1.2)" font-size="6.3" text-anchor="end" font-weight="normal" >100</text>
<line x1="179.25" y1="204.80" x2="181.25" y2="204.80" stroke="#000" stroke-width="0.8"/>
<text x="0" y="0" transform="translate(179.05,207.51) scale(1,1.2)" font-size="6.3" text-anchor="end" font-weight="normal" >80</text>
<line x1="179.25" y1="222.80" x2="181.25" y2="222.80" stroke="#000" stroke-width="0.8"/>
<text x="0" y="0" transform="translate(179.05,225.51) scale(1,1.2)" font-size="6.3" text-anchor="end" font-weight="normal" >60</text>
<line x1="179.25" y1="240.80" x2="181.25" y2="240.80" stroke="#000" stroke-width="0.8"/>
<text x="0" y="0" transform="translate(179.05,243.51) scale(1,1.2)" font-size="6.3" text-anchor="end" font-weight="normal" >40</text>
<line x1="179.25" y1="258.80" x2="181.25" y2="258.80" stroke="#000" stroke-width="0.8"/>
<text x="0" y="0" transform="translate(179.05,261.51) scale(1,1.2)" font-size="6.3" text-anchor="end" font-weight="normal" >20</text>
<line x1="179.25" y1="276.80" x2="181.25" y2="276.80" stroke="#000" stroke-width="0.8"/>
<text x="0" y="0" transform="translate(179.05,277.31) scale(1,1.2)" font-size="6.3" text-anchor="end" font-weight="normal" >0</text>
<line x1="180.85" y1="277.00" x2="299.60" y2="277.00" stroke="#000" stroke-width="1.3"/>
<line x1="220.60" y1="277.00" x2="220.60" y2="279.00" stroke="#000" stroke-width="0.8"/>
<text x="0" y="0" transform="translate(220.60,286.80) scale(1,1.3)" font-size="6.5" text-anchor="middle" font-weight="normal" >Day 1</text>
<line x1="259.80" y1="277.00" x2="259.80" y2="279.00" stroke="#000" stroke-width="0.8"/>
<text x="0" y="0" transform="translate(259.80,286.80) scale(1,1.3)" font-size="6.5" text-anchor="middle" font-weight="normal" >Day 2</text>
<line x1="299.30" y1="277.00" x2="299.30" y2="279.00" stroke="#000" stroke-width="0.8"/>
<text x="0" y="0" transform="translate(299.30,286.80) scale(1,1.3)" font-size="6.5" text-anchor="middle" font-weight="normal" >Day 3</text>
<text x="0" y="0" transform="translate(237.00,172.30) scale(1,1.12)" font-size="7.0" text-anchor="start" font-weight="normal" textLength="24.10" lengthAdjust="spacingAndGlyphs" >MOLT-4</text>
<text x="-262.50" y="0" font-size="6.5" text-anchor="start" textLength="77.40" lengthAdjust="spacingAndGlyphs" transform="translate(164.44,0) rotate(-90)">Proliferation (% Control)</text>
<polyline points="181.40,186.80 220.60,186.80 259.80,186.80 299.30,186.80" fill="none" stroke="#000" stroke-width="1.0" stroke-linejoin="round"/>
<polyline points="181.40,186.80 220.60,189.50 259.80,189.50 299.30,186.80" fill="none" stroke="#000" stroke-width="1.0" stroke-linejoin="round"/>
<polyline points="181.40,186.80 220.60,228.00 259.80,239.50 299.30,244.00" fill="none" stroke="#000" stroke-width="1.0" stroke-linejoin="round"/>
<polyline points="181.40,186.80 220.60,260.00 259.80,260.00 299.30,265.00" fill="none" stroke="#000" stroke-width="1.0" stroke-linejoin="round"/>
<polyline points="181.40,186.80 220.60,262.20 259.80,263.30 299.30,268.80" fill="none" stroke="#000" stroke-width="0.9" stroke-linejoin="round" stroke-dasharray="3.2,1.3,0.8,1.3"/>
<polyline points="181.40,186.80 220.60,267.50 259.80,266.80 299.30,270.50" fill="none" stroke="#000" stroke-width="1.0" stroke-linejoin="round"/>
<polygon points="181.40,184.46 183.06,186.80 181.40,189.14 179.74,186.80" fill="#fff" stroke="#000" stroke-width="0.8"/>
<polygon points="220.60,187.16 222.26,189.50 220.60,191.84 218.94,189.50" fill="#fff" stroke="#000" stroke-width="0.8"/>
<polygon points="259.80,187.16 261.46,189.50 259.80,191.84 258.14,189.50" fill="#fff" stroke="#000" stroke-width="0.8"/>
<polygon points="299.30,184.46 300.96,186.80 299.30,189.14 297.64,186.80" fill="#fff" stroke="#000" stroke-width="0.8"/>
<polygon points="181.40,184.66 182.93,188.36 179.87,188.36" fill="#fff" stroke="#000" stroke-width="0.8"/>
<polygon points="220.60,265.36 222.13,269.06 219.07,269.06" fill="#fff" stroke="#000" stroke-width="0.8"/>
<polygon points="259.80,264.66 261.33,268.36 258.27,268.36" fill="#fff" stroke="#000" stroke-width="0.8"/>
<polygon points="299.30,268.36 300.83,272.06 297.77,272.06" fill="#fff" stroke="#000" stroke-width="0.8"/>
<ellipse cx="181.40" cy="186.80" rx="1.27" ry="1.95" fill="#000"/>
<ellipse cx="220.60" cy="186.80" rx="1.27" ry="1.95" fill="#000"/>
<ellipse cx="259.80" cy="186.80" rx="1.27" ry="1.95" fill="#000"/>
<ellipse cx="299.30" cy="186.80" rx="1.27" ry="1.95" fill="#000"/>
<line x1="259.80" y1="184.00" x2="259.80" y2="192.50" stroke="#000" stroke-width="0.7"/>
<line x1="258.60" y1="184.00" x2="261.00" y2="184.00" stroke="#000" stroke-width="0.7"/>
<line x1="258.60" y1="192.50" x2="261.00" y2="192.50" stroke="#000" stroke-width="0.7"/>
<polygon points="181.40,184.66 182.93,188.36 179.87,188.36" fill="#000"/>
<polygon points="220.60,225.85 222.13,229.56 219.07,229.56" fill="#000"/>
<polygon points="259.80,237.35 261.33,241.06 258.27,241.06" fill="#000"/>
<polygon points="299.30,241.85 300.83,245.56 297.77,245.56" fill="#000"/>
<line x1="259.80" y1="235.00" x2="259.80" y2="243.80" stroke="#000" stroke-width="0.7"/>
<line x1="258.60" y1="235.00" x2="261.00" y2="235.00" stroke="#000" stroke-width="0.7"/>
<line x1="258.60" y1="243.80" x2="261.00" y2="243.80" stroke="#000" stroke-width="0.7"/>
<path d="M180.12,184.85L182.68,188.75M182.68,184.85L180.12,188.75" stroke="#000" stroke-width="0.8"/>
<path d="M219.32,258.05L221.88,261.95M221.88,258.05L219.32,261.95" stroke="#000" stroke-width="0.8"/>
<path d="M258.53,258.05L261.07,261.95M261.07,258.05L258.53,261.95" stroke="#000" stroke-width="0.8"/>
<path d="M298.03,263.05L300.57,266.95M300.57,263.05L298.03,266.95" stroke="#000" stroke-width="0.8"/>
<rect x="180.12" y="184.85" width="2.55" height="3.90" fill="#000"/>
<rect x="219.32" y="260.25" width="2.55" height="3.90" fill="#000"/>
<rect x="258.53" y="261.35" width="2.55" height="3.90" fill="#000"/>
<rect x="298.03" y="266.85" width="2.55" height="3.90" fill="#000"/>
<rect x="179.70" y="184.80" width="3.4" height="4.0" fill="#000"/>
<line x1="339.00" y1="168.50" x2="339.00" y2="277.90" stroke="#000" stroke-width="1.0"/>
<line x1="337.00" y1="168.80" x2="339.00" y2="168.80" stroke="#000" stroke-width="0.8"/>
<text x="0" y="0" transform="translate(336.80,171.51) scale(1,1.2)" font-size="6.3" text-anchor="end" font-weight="normal" >120</text>
<line x1="337.00" y1="186.80" x2="339.00" y2="186.80" stroke="#000" stroke-width="0.8"/>
<text x="0" y="0" transform="translate(336.80,189.51) scale(1,1.2)" font-size="6.3" text-anchor="end" font-weight="normal" >100</text>
<line x1="337.00" y1="204.80" x2="339.00" y2="204.80" stroke="#000" stroke-width="0.8"/>
<text x="0" y="0" transform="translate(336.80,207.51) scale(1,1.2)" font-size="6.3" text-anchor="end" font-weight="normal" >80</text>
<line x1="337.00" y1="222.80" x2="339.00" y2="222.80" stroke="#000" stroke-width="0.8"/>
<text x="0" y="0" transform="translate(336.80,225.51) scale(1,1.2)" font-size="6.3" text-anchor="end" font-weight="normal" >60</text>
<line x1="337.00" y1="240.80" x2="339.00" y2="240.80" stroke="#000" stroke-width="0.8"/>
<text x="0" y="0" transform="translate(336.80,243.51) scale(1,1.2)" font-size="6.3" text-anchor="end" font-weight="normal" >40</text>
<line x1="337.00" y1="258.80" x2="339.00" y2="258.80" stroke="#000" stroke-width="0.8"/>
<text x="0" y="0" transform="translate(336.80,261.51) scale(1,1.2)" font-size="6.3" text-anchor="end" font-weight="normal" >20</text>
<line x1="337.00" y1="276.80" x2="339.00" y2="276.80" stroke="#000" stroke-width="0.8"/>
<text x="0" y="0" transform="translate(336.80,277.31) scale(1,1.2)" font-size="6.3" text-anchor="end" font-weight="normal" >0</text>
<line x1="338.60" y1="277.30" x2="457.80" y2="277.30" stroke="#000" stroke-width="1.3"/>
<line x1="378.70" y1="277.30" x2="378.70" y2="279.30" stroke="#000" stroke-width="0.8"/>
<text x="0" y="0" transform="translate(378.70,287.10) scale(1,1.3)" font-size="6.5" text-anchor="middle" font-weight="normal" >Day 1</text>
<line x1="418.20" y1="277.30" x2="418.20" y2="279.30" stroke="#000" stroke-width="0.8"/>
<text x="0" y="0" transform="translate(418.20,287.10) scale(1,1.3)" font-size="6.5" text-anchor="middle" font-weight="normal" >Day 2</text>
<line x1="457.50" y1="277.30" x2="457.50" y2="279.30" stroke="#000" stroke-width="0.8"/>
<text x="0" y="0" transform="translate(457.50,287.10) scale(1,1.3)" font-size="6.5" text-anchor="middle" font-weight="normal" >Day 3</text>
<text x="0" y="0" transform="translate(401.60,172.30) scale(1,1.12)" font-size="7.0" text-anchor="start" font-weight="normal" textLength="14.60" lengthAdjust="spacingAndGlyphs" >CEM</text>
<text x="-263.80" y="0" font-size="6.5" text-anchor="start" textLength="79.10" lengthAdjust="spacingAndGlyphs" transform="translate(321.74,0) rotate(-90)">Proliferation (% Control)</text>
<polyline points="339.00,186.50 378.70,186.30 418.20,187.00 457.50,187.00" fill="none" stroke="#000" stroke-width="1.3" stroke-linejoin="round"/>
<polyline points="339.00,186.50 378.70,183.80 418.20,185.00 457.50,186.80" fill="none" stroke="#000" stroke-width="1.15" stroke-linejoin="round"/>
<polyline points="339.00,186.50 378.70,186.80 418.20,187.50 457.50,187.30" fill="none" stroke="#000" stroke-width="1.15" stroke-linejoin="round"/>
<polyline points="339.00,186.50 378.70,203.80 418.20,215.80 457.50,228.00" fill="none" stroke="#000" stroke-width="1.15" stroke-linejoin="round"/>
<polyline points="339.00,186.50 378.70,241.30 418.20,246.30 457.50,253.80" fill="none" stroke="#000" stroke-width="1.1" stroke-linejoin="round" stroke-dasharray="3.2,1.3,0.8,1.3"/>
<polyline points="339.00,186.50 378.70,256.30 418.20,271.80 457.50,274.30" fill="none" stroke="#000" stroke-width="1.15" stroke-linejoin="round"/>
<polygon points="339.00,184.00 340.77,186.50 339.00,189.00 337.23,186.50" fill="#fff" stroke="#000" stroke-width="0.8"/>
<polygon points="378.70,181.30 380.47,183.80 378.70,186.30 376.93,183.80" fill="#fff" stroke="#000" stroke-width="0.8"/>
<polygon points="418.20,182.50 419.97,185.00 418.20,187.50 416.43,185.00" fill="#fff" stroke="#000" stroke-width="0.8"/>
<polygon points="457.50,184.30 459.27,186.80 457.50,189.30 455.73,186.80" fill="#fff" stroke="#000" stroke-width="0.8"/>
<polygon points="339.00,184.21 340.63,188.16 337.37,188.16" fill="#fff" stroke="#000" stroke-width="0.8"/>
<polygon points="378.70,254.01 380.33,257.96 377.07,257.96" fill="#fff" stroke="#000" stroke-width="0.8"/>
<polygon points="418.20,269.51 419.83,273.46 416.57,273.46" fill="#fff" stroke="#000" stroke-width="0.8"/>
<polygon points="457.50,272.01 459.13,275.96 455.87,275.96" fill="#fff" stroke="#000" stroke-width="0.8"/>
<ellipse cx="339.00" cy="186.50" rx="1.53" ry="2.34" fill="#000"/>
<ellipse cx="378.70" cy="186.30" rx="1.53" ry="2.34" fill="#000"/>
<ellipse cx="418.20" cy="187.00" rx="1.53" ry="2.34" fill="#000"/>
<ellipse cx="457.50" cy="187.00" rx="1.53" ry="2.34" fill="#000"/>
<polygon points="339.00,183.93 340.84,188.37 337.16,188.37" fill="#000"/>
<polygon points="378.70,184.23 380.54,188.67 376.86,188.67" fill="#000"/>
<polygon points="418.20,184.93 420.04,189.37 416.36,189.37" fill="#000"/>
<polygon points="457.50,184.73 459.34,189.17 455.66,189.17" fill="#000"/>
<path d="M337.64,184.42L340.36,188.58M340.36,184.42L337.64,188.58" stroke="#000" stroke-width="0.8"/>
<path d="M377.34,201.72L380.06,205.88M380.06,201.72L377.34,205.88" stroke="#000" stroke-width="0.8"/>
<path d="M416.84,213.72L419.56,217.88M419.56,213.72L416.84,217.88" stroke="#000" stroke-width="0.8"/>
<path d="M456.14,225.92L458.86,230.08M458.86,225.92L456.14,230.08" stroke="#000" stroke-width="0.8"/>
<line x1="378.70" y1="200.50" x2="378.70" y2="207.00" stroke="#000" stroke-width="0.7"/>
<line x1="377.50" y1="200.50" x2="379.90" y2="200.50" stroke="#000" stroke-width="0.7"/>
<line x1="377.50" y1="207.00" x2="379.90" y2="207.00" stroke="#000" stroke-width="0.7"/>
<line x1="418.20" y1="212.50" x2="418.20" y2="219.00" stroke="#000" stroke-width="0.7"/>
<line x1="417.00" y1="212.50" x2="419.40" y2="212.50" stroke="#000" stroke-width="0.7"/>
<line x1="417.00" y1="219.00" x2="419.40" y2="219.00" stroke="#000" stroke-width="0.7"/>
<rect x="337.56" y="184.29" width="2.89" height="4.42" fill="#000"/>
<rect x="377.25" y="239.09" width="2.89" height="4.42" fill="#000"/>
<rect x="416.75" y="244.09" width="2.89" height="4.42" fill="#000"/>
<rect x="456.06" y="251.59" width="2.89" height="4.42" fill="#000"/>
<rect x="337.30" y="184.50" width="3.4" height="4.0" fill="#000"/>
<line x1="472.00" y1="195.40" x2="480.10" y2="195.40" stroke="#000" stroke-width="1.0"/>
<ellipse cx="476.05" cy="195.40" rx="1.06" ry="1.62" fill="#000"/>
<text x="0" y="0" transform="translate(481.90,198.09) scale(1,1.15)" font-size="6.5" text-anchor="start" font-weight="normal" >0.1% DMSO</text>
<line x1="472.00" y1="204.55" x2="480.10" y2="204.55" stroke="#000" stroke-width="1.0"/>
<ellipse cx="476.05" cy="204.55" rx="1.06" ry="1.62" fill="#000"/>
<text x="0" y="0" transform="translate(481.90,207.24) scale(1,1.15)" font-size="6.5" text-anchor="start" font-weight="normal" >5x10<tspan dy="-2.6" font-size="6.50">-8</tspan><tspan dy="2.6"> M</tspan></text>
<line x1="472.00" y1="213.35" x2="480.10" y2="213.35" stroke="#000" stroke-width="1.0"/>
<polygon points="476.05,211.56 477.32,214.65 474.78,214.65" fill="#000"/>
<text x="0" y="0" transform="translate(481.90,216.04) scale(1,1.15)" font-size="6.5" text-anchor="start" font-weight="normal" >1x10<tspan dy="-2.6" font-size="6.50">-7</tspan><tspan dy="2.6"> M</tspan></text>
<line x1="472.00" y1="221.90" x2="480.10" y2="221.90" stroke="#000" stroke-width="1.0"/>
<path d="M474.99,220.28L477.11,223.53M477.11,220.28L474.99,223.53" stroke="#000" stroke-width="0.8"/>
<text x="0" y="0" transform="translate(481.90,224.59) scale(1,1.15)" font-size="6.5" text-anchor="start" font-weight="normal" >5x10<tspan dy="-2.6" font-size="6.50">-7</tspan><tspan dy="2.6"> M</tspan></text>
<line x1="472.00" y1="231.20" x2="480.10" y2="231.20" stroke="#000" stroke-width="1.0" stroke-dasharray="2,1.5"/>
<rect x="474.99" y="229.57" width="2.12" height="3.25" fill="#000"/>
<text x="0" y="0" transform="translate(481.90,233.89) scale(1,1.15)" font-size="6.5" text-anchor="start" font-weight="normal" >1x10<tspan dy="-2.6" font-size="6.50">-6</tspan><tspan dy="2.6"> M</tspan></text>
<line x1="472.00" y1="239.95" x2="480.10" y2="239.95" stroke="#000" stroke-width="1.0"/>
<polygon points="476.05,238.16 477.32,241.25 474.78,241.25" fill="#fff" stroke="#000" stroke-width="0.8"/>
<text x="0" y="0" transform="translate(481.90,242.64) scale(1,1.15)" font-size="6.5" text-anchor="start" font-weight="normal" >5x10<tspan dy="-2.6" font-size="6.50">-6</tspan><tspan dy="2.6">M</tspan></text>
<line x1="23.20" y1="323.10" x2="23.20" y2="428.80" stroke="#000" stroke-width="1.0"/>
<line x1="21.20" y1="323.40" x2="23.20" y2="323.40" stroke="#000" stroke-width="0.8"/>
<text x="0" y="0" transform="translate(21.00,326.11) scale(1,1.2)" font-size="6.3" text-anchor="end" font-weight="normal" >120</text>
<line x1="21.20" y1="340.85" x2="23.20" y2="340.85" stroke="#000" stroke-width="0.8"/>
<text x="0" y="0" transform="translate(21.00,343.56) scale(1,1.2)" font-size="6.3" text-anchor="end" font-weight="normal" >100</text>
<line x1="21.20" y1="358.30" x2="23.20" y2="358.30" stroke="#000" stroke-width="0.8"/>
<text x="0" y="0" transform="translate(21.00,361.01) scale(1,1.2)" font-size="6.3" text-anchor="end" font-weight="normal" >80</text>
<line x1="21.20" y1="375.75" x2="23.20" y2="375.75" stroke="#000" stroke-width="0.8"/>
<text x="0" y="0" transform="translate(21.00,378.46) scale(1,1.2)" font-size="6.3" text-anchor="end" font-weight="normal" >60</text>
<line x1="21.20" y1="393.20" x2="23.20" y2="393.20" stroke="#000" stroke-width="0.8"/>
<text x="0" y="0" transform="translate(21.00,395.91) scale(1,1.2)" font-size="6.3" text-anchor="end" font-weight="normal" >40</text>
<line x1="21.20" y1="410.65" x2="23.20" y2="410.65" stroke="#000" stroke-width="0.8"/>
<text x="0" y="0" transform="translate(21.00,413.36) scale(1,1.2)" font-size="6.3" text-anchor="end" font-weight="normal" >20</text>
<line x1="21.20" y1="428.10" x2="23.20" y2="428.10" stroke="#000" stroke-width="0.8"/>
<text x="0" y="0" transform="translate(21.00,430.81) scale(1,1.2)" font-size="6.3" text-anchor="end" font-weight="normal" >0</text>
<line x1="22.80" y1="428.20" x2="141.90" y2="428.20" stroke="#000" stroke-width="1.6"/>
<line x1="53.30" y1="428.20" x2="53.30" y2="430.20" stroke="#000" stroke-width="0.8"/>
<text x="0" y="0" transform="translate(55.50,438.00) scale(1,1.3)" font-size="6.5" text-anchor="middle" font-weight="normal" >Day 1</text>
<line x1="83.00" y1="428.20" x2="83.00" y2="430.20" stroke="#000" stroke-width="0.8"/>
<text x="0" y="0" transform="translate(85.20,438.00) scale(1,1.3)" font-size="6.5" text-anchor="middle" font-weight="normal" >Day 2</text>
<line x1="112.40" y1="428.20" x2="112.40" y2="430.20" stroke="#000" stroke-width="0.8"/>
<text x="0" y="0" transform="translate(114.60,438.00) scale(1,1.3)" font-size="6.5" text-anchor="middle" font-weight="normal" >Day 3</text>
<line x1="141.60" y1="428.20" x2="141.60" y2="430.20" stroke="#000" stroke-width="0.8"/>
<text x="0" y="0" transform="translate(143.80,438.00) scale(1,1.3)" font-size="6.5" text-anchor="middle" font-weight="normal" >Day 4</text>
<text x="0" y="0" transform="translate(80.10,325.60) scale(1,1.12)" font-size="7.0" text-anchor="start" font-weight="normal" textLength="26.10" lengthAdjust="spacingAndGlyphs" >Patient 1</text>
<text x="-420.20" y="0" font-size="6.5" text-anchor="start" textLength="80.80" lengthAdjust="spacingAndGlyphs" transform="translate(5.93,0) rotate(-90)">Proliferation (% Control)</text>
<polyline points="23.40,341.20 53.30,341.20 83.00,341.20 112.40,341.20 141.60,341.20" fill="none" stroke="#000" stroke-width="1.9" stroke-linejoin="round"/>
<polyline points="23.40,341.20 53.30,377.00 83.00,404.50 112.40,411.30 141.60,425.00" fill="none" stroke="#000" stroke-width="1.9" stroke-linejoin="round"/>
<polyline points="23.40,341.20 53.30,382.50 83.00,407.50 112.40,422.50 141.60,425.80" fill="none" stroke="#000" stroke-width="1.9" stroke-linejoin="round"/>
<rect x="21.53" y="338.34" width="3.74" height="5.72" fill="#000"/>
<rect x="51.43" y="338.34" width="3.74" height="5.72" fill="#000"/>
<rect x="81.13" y="338.34" width="3.74" height="5.72" fill="#000"/>
<rect x="110.53" y="338.34" width="3.74" height="5.72" fill="#000"/>
<rect x="139.73" y="338.34" width="3.74" height="5.72" fill="#000"/>
<polygon points="23.40,338.05 25.64,343.49 21.16,343.49" fill="#000"/>
<polygon points="53.30,373.85 55.54,379.29 51.06,379.29" fill="#000"/>
<polygon points="83.00,401.35 85.24,406.79 80.76,406.79" fill="#000"/>
<polygon points="112.40,408.15 114.64,413.59 110.16,413.59" fill="#000"/>
<polygon points="141.60,421.85 143.84,427.29 139.36,427.29" fill="#000"/>
<ellipse cx="23.40" cy="341.20" rx="1.87" ry="2.86" fill="#000"/>
<ellipse cx="53.30" cy="382.50" rx="1.87" ry="2.86" fill="#000"/>
<ellipse cx="83.00" cy="407.50" rx="1.87" ry="2.86" fill="#000"/>
<ellipse cx="112.40" cy="422.50" rx="1.87" ry="2.86" fill="#000"/>
<ellipse cx="141.60" cy="425.80" rx="1.87" ry="2.86" fill="#000"/>
<rect x="21.70" y="339.20" width="3.4" height="4.0" fill="#000"/>
<line x1="181.20" y1="323.10" x2="181.20" y2="428.60" stroke="#000" stroke-width="1.0"/>
<line x1="179.20" y1="323.40" x2="181.20" y2="323.40" stroke="#000" stroke-width="0.8"/>
<text x="0" y="0" transform="translate(179.00,326.11) scale(1,1.2)" font-size="6.3" text-anchor="end" font-weight="normal" >120</text>
<line x1="179.20" y1="340.85" x2="181.20" y2="340.85" stroke="#000" stroke-width="0.8"/>
<text x="0" y="0" transform="translate(179.00,343.56) scale(1,1.2)" font-size="6.3" text-anchor="end" font-weight="normal" >100</text>
<line x1="179.20" y1="358.30" x2="181.20" y2="358.30" stroke="#000" stroke-width="0.8"/>
<text x="0" y="0" transform="translate(179.00,361.01) scale(1,1.2)" font-size="6.3" text-anchor="end" font-weight="normal" >80</text>
<line x1="179.20" y1="375.75" x2="181.20" y2="375.75" stroke="#000" stroke-width="0.8"/>
<text x="0" y="0" transform="translate(179.00,378.46) scale(1,1.2)" font-size="6.3" text-anchor="end" font-weight="normal" >60</text>
<line x1="179.20" y1="393.20" x2="181.20" y2="393.20" stroke="#000" stroke-width="0.8"/>
<text x="0" y="0" transform="translate(179.00,395.91) scale(1,1.2)" font-size="6.3" text-anchor="end" font-weight="normal" >40</text>
<line x1="179.20" y1="410.65" x2="181.20" y2="410.65" stroke="#000" stroke-width="0.8"/>
<text x="0" y="0" transform="translate(179.00,413.36) scale(1,1.2)" font-size="6.3" text-anchor="end" font-weight="normal" >20</text>
<line x1="179.20" y1="428.10" x2="181.20" y2="428.10" stroke="#000" stroke-width="0.8"/>
<text x="0" y="0" transform="translate(179.00,430.81) scale(1,1.2)" font-size="6.3" text-anchor="end" font-weight="normal" >0</text>
<line x1="180.80" y1="428.00" x2="300.20" y2="428.00" stroke="#000" stroke-width="1.6"/>
<line x1="212.40" y1="428.00" x2="212.40" y2="430.00" stroke="#000" stroke-width="0.8"/>
<text x="0" y="0" transform="translate(214.60,437.80) scale(1,1.3)" font-size="6.5" text-anchor="middle" font-weight="normal" >Day 1</text>
<line x1="241.60" y1="428.00" x2="241.60" y2="430.00" stroke="#000" stroke-width="0.8"/>
<text x="0" y="0" transform="translate(243.80,437.80) scale(1,1.3)" font-size="6.5" text-anchor="middle" font-weight="normal" >Day 2</text>
<line x1="270.80" y1="428.00" x2="270.80" y2="430.00" stroke="#000" stroke-width="0.8"/>
<text x="0" y="0" transform="translate(273.00,437.80) scale(1,1.3)" font-size="6.5" text-anchor="middle" font-weight="normal" >Day 3</text>
<line x1="299.80" y1="428.00" x2="299.80" y2="430.00" stroke="#000" stroke-width="0.8"/>
<text x="0" y="0" transform="translate(302.00,437.80) scale(1,1.3)" font-size="6.5" text-anchor="middle" font-weight="normal" >Day 4</text>
<text x="0" y="0" transform="translate(232.00,325.60) scale(1,1.12)" font-size="7.0" text-anchor="start" font-weight="normal" textLength="26.20" lengthAdjust="spacingAndGlyphs" >Patient 2</text>
<text x="-416.10" y="0" font-size="6.5" text-anchor="start" textLength="77.35" lengthAdjust="spacingAndGlyphs" transform="translate(160.63,0) rotate(-90)">Proliferation (% Control)</text>
<polyline points="182.20,341.20 212.40,341.20 241.60,341.20 270.80,341.20 299.80,341.20" fill="none" stroke="#000" stroke-width="1.6" stroke-linejoin="round"/>
<polyline points="182.20,341.20 212.40,362.50 241.60,377.50 270.80,409.50 299.80,421.80" fill="none" stroke="#000" stroke-width="1.6" stroke-linejoin="round"/>
<polyline points="182.20,341.20 212.40,373.30 241.60,402.50 270.80,415.00 299.80,423.80" fill="none" stroke="#000" stroke-width="1.6" stroke-linejoin="round"/>
<rect x="180.33" y="338.34" width="3.74" height="5.72" fill="#000"/>
<rect x="210.53" y="338.34" width="3.74" height="5.72" fill="#000"/>
<rect x="239.73" y="338.34" width="3.74" height="5.72" fill="#000"/>
<rect x="268.93" y="338.34" width="3.74" height="5.72" fill="#000"/>
<rect x="297.93" y="338.34" width="3.74" height="5.72" fill="#000"/>
<polygon points="182.20,338.05 184.44,343.49 179.96,343.49" fill="#000"/>
<polygon points="212.40,359.35 214.64,364.79 210.16,364.79" fill="#000"/>
<polygon points="241.60,374.35 243.84,379.79 239.36,379.79" fill="#000"/>
<polygon points="270.80,406.35 273.04,411.79 268.56,411.79" fill="#000"/>
<polygon points="299.80,418.65 302.04,424.09 297.56,424.09" fill="#000"/>
<ellipse cx="182.20" cy="341.20" rx="1.87" ry="2.86" fill="#000"/>
<ellipse cx="212.40" cy="373.30" rx="1.87" ry="2.86" fill="#000"/>
<ellipse cx="241.60" cy="402.50" rx="1.87" ry="2.86" fill="#000"/>
<ellipse cx="270.80" cy="415.00" rx="1.87" ry="2.86" fill="#000"/>
<ellipse cx="299.80" cy="423.80" rx="1.87" ry="2.86" fill="#000"/>
<rect x="180.50" y="339.20" width="3.4" height="4.0" fill="#000"/>
<line x1="339.00" y1="322.24" x2="339.00" y2="428.60" stroke="#000" stroke-width="1.0"/>
<line x1="337.00" y1="322.54" x2="339.00" y2="322.54" stroke="#000" stroke-width="0.8"/>
<text x="0" y="0" transform="translate(336.80,325.25) scale(1,1.2)" font-size="6.3" text-anchor="end" font-weight="normal" >120</text>
<line x1="337.00" y1="340.05" x2="339.00" y2="340.05" stroke="#000" stroke-width="0.8"/>
<text x="0" y="0" transform="translate(336.80,342.76) scale(1,1.2)" font-size="6.3" text-anchor="end" font-weight="normal" >100</text>
<line x1="337.00" y1="357.56" x2="339.00" y2="357.56" stroke="#000" stroke-width="0.8"/>
<text x="0" y="0" transform="translate(336.80,360.27) scale(1,1.2)" font-size="6.3" text-anchor="end" font-weight="normal" >80</text>
<line x1="337.00" y1="375.07" x2="339.00" y2="375.07" stroke="#000" stroke-width="0.8"/>
<text x="0" y="0" transform="translate(336.80,377.78) scale(1,1.2)" font-size="6.3" text-anchor="end" font-weight="normal" >60</text>
<line x1="337.00" y1="392.58" x2="339.00" y2="392.58" stroke="#000" stroke-width="0.8"/>
<text x="0" y="0" transform="translate(336.80,395.29) scale(1,1.2)" font-size="6.3" text-anchor="end" font-weight="normal" >40</text>
<line x1="337.00" y1="410.09" x2="339.00" y2="410.09" stroke="#000" stroke-width="0.8"/>
<text x="0" y="0" transform="translate(336.80,412.80) scale(1,1.2)" font-size="6.3" text-anchor="end" font-weight="normal" >20</text>
<line x1="337.00" y1="427.60" x2="339.00" y2="427.60" stroke="#000" stroke-width="0.8"/>
<text x="0" y="0" transform="translate(336.80,430.31) scale(1,1.2)" font-size="6.3" text-anchor="end" font-weight="normal" >0</text>
<line x1="338.60" y1="428.00" x2="457.80" y2="428.00" stroke="#000" stroke-width="1.6"/>
<line x1="368.90" y1="428.00" x2="368.90" y2="430.00" stroke="#000" stroke-width="0.8"/>
<text x="0" y="0" transform="translate(371.10,437.80) scale(1,1.3)" font-size="6.5" text-anchor="middle" font-weight="normal" >Day 1</text>
<line x1="398.30" y1="428.00" x2="398.30" y2="430.00" stroke="#000" stroke-width="0.8"/>
<text x="0" y="0" transform="translate(400.50,437.80) scale(1,1.3)" font-size="6.5" text-anchor="middle" font-weight="normal" >Day 2</text>
<line x1="428.00" y1="428.00" x2="428.00" y2="430.00" stroke="#000" stroke-width="0.8"/>
<text x="0" y="0" transform="translate(430.20,437.80) scale(1,1.3)" font-size="6.5" text-anchor="middle" font-weight="normal" >Day 3</text>
<line x1="457.50" y1="428.00" x2="457.50" y2="430.00" stroke="#000" stroke-width="0.8"/>
<text x="0" y="0" transform="translate(459.70,437.80) scale(1,1.3)" font-size="6.5" text-anchor="middle" font-weight="normal" >Day 4</text>
<text x="0" y="0" transform="translate(395.90,325.60) scale(1,1.12)" font-size="7.0" text-anchor="start" font-weight="normal" textLength="26.30" lengthAdjust="spacingAndGlyphs" >Patient 3</text>
<text x="-416.10" y="0" font-size="6.5" text-anchor="start" textLength="78.00" lengthAdjust="spacingAndGlyphs" transform="translate(318.74,0) rotate(-90)">Proliferation (% Control)</text>
<polyline points="339.30,340.10 368.90,340.10 398.30,340.10 428.00,340.10 457.50,340.10" fill="none" stroke="#000" stroke-width="2.0" stroke-linejoin="round"/>
<polyline points="339.30,340.10 368.90,361.80 398.30,367.50 428.00,386.30 457.50,389.50" fill="none" stroke="#000" stroke-width="2.0" stroke-linejoin="round"/>
<polyline points="339.30,340.10 368.90,368.00 398.30,371.30 428.00,395.50 457.50,404.50" fill="none" stroke="#000" stroke-width="2.0" stroke-linejoin="round"/>
<rect x="337.43" y="337.24" width="3.74" height="5.72" fill="#000"/>
<rect x="367.03" y="337.24" width="3.74" height="5.72" fill="#000"/>
<rect x="396.43" y="337.24" width="3.74" height="5.72" fill="#000"/>
<rect x="426.13" y="337.24" width="3.74" height="5.72" fill="#000"/>
<rect x="455.63" y="337.24" width="3.74" height="5.72" fill="#000"/>
<polygon points="339.30,336.95 341.54,342.39 337.06,342.39" fill="#000"/>
<polygon points="368.90,358.65 371.14,364.09 366.66,364.09" fill="#000"/>
<polygon points="398.30,364.35 400.54,369.79 396.06,369.79" fill="#000"/>
<polygon points="428.00,383.15 430.24,388.59 425.76,388.59" fill="#000"/>
<polygon points="457.50,386.35 459.74,391.79 455.26,391.79" fill="#000"/>
<ellipse cx="339.30" cy="340.10" rx="1.87" ry="2.86" fill="#000"/>
<ellipse cx="368.90" cy="368.00" rx="1.87" ry="2.86" fill="#000"/>
<ellipse cx="398.30" cy="371.30" rx="1.87" ry="2.86" fill="#000"/>
<ellipse cx="428.00" cy="395.50" rx="1.87" ry="2.86" fill="#000"/>
<ellipse cx="457.50" cy="404.50" rx="1.87" ry="2.86" fill="#000"/>
<rect x="337.60" y="338.10" width="3.4" height="4.0" fill="#000"/>
<line x1="471.50" y1="362.30" x2="478.50" y2="362.30" stroke="#000" stroke-width="1.1"/>
<rect x="473.73" y="360.35" width="2.55" height="3.90" fill="#000"/>
<text x="0" y="0" transform="translate(481.70,364.99) scale(1,1.15)" font-size="6.5" text-anchor="start" font-weight="normal" >0.1% DMSO</text>
<line x1="471.50" y1="372.70" x2="478.50" y2="372.70" stroke="#000" stroke-width="1.1"/>
<polygon points="475.00,370.56 476.53,374.26 473.47,374.26" fill="#000"/>
<text x="0" y="0" transform="translate(481.70,375.39) scale(1,1.15)" font-size="6.5" text-anchor="start" font-weight="normal" >1x10<tspan dy="-2.6" font-size="6.50">-6</tspan><tspan dy="2.6">M</tspan></text>
<line x1="471.50" y1="383.10" x2="478.50" y2="383.10" stroke="#000" stroke-width="1.1"/>
<ellipse cx="475.00" cy="383.10" rx="1.27" ry="1.95" fill="#000"/>
<text x="0" y="0" transform="translate(481.70,385.79) scale(1,1.15)" font-size="6.5" text-anchor="start" font-weight="normal" >5x10<tspan dy="-2.6" font-size="6.50">-6</tspan><tspan dy="2.6">M</tspan></text>
<line x1="23.40" y1="477.66" x2="23.40" y2="584.40" stroke="#000" stroke-width="1.0"/>
<line x1="21.40" y1="477.96" x2="23.40" y2="477.96" stroke="#000" stroke-width="0.8"/>
<text x="0" y="0" transform="translate(21.20,480.58) scale(1,1.18)" font-size="6.2" text-anchor="end" font-weight="normal" >120</text>
<line x1="21.40" y1="495.60" x2="23.40" y2="495.60" stroke="#000" stroke-width="0.8"/>
<text x="0" y="0" transform="translate(21.20,498.22) scale(1,1.18)" font-size="6.2" text-anchor="end" font-weight="normal" >100</text>
<line x1="21.40" y1="513.24" x2="23.40" y2="513.24" stroke="#000" stroke-width="0.8"/>
<text x="0" y="0" transform="translate(21.20,515.86) scale(1,1.18)" font-size="6.2" text-anchor="end" font-weight="normal" >80</text>
<line x1="21.40" y1="530.88" x2="23.40" y2="530.88" stroke="#000" stroke-width="0.8"/>
<text x="0" y="0" transform="translate(21.20,533.50) scale(1,1.18)" font-size="6.2" text-anchor="end" font-weight="normal" >60</text>
<line x1="21.40" y1="548.52" x2="23.40" y2="548.52" stroke="#000" stroke-width="0.8"/>
<text x="0" y="0" transform="translate(21.20,551.14) scale(1,1.18)" font-size="6.2" text-anchor="end" font-weight="normal" >40</text>
<line x1="21.40" y1="566.16" x2="23.40" y2="566.16" stroke="#000" stroke-width="0.8"/>
<text x="0" y="0" transform="translate(21.20,568.78) scale(1,1.18)" font-size="6.2" text-anchor="end" font-weight="normal" >20</text>
<line x1="21.40" y1="583.80" x2="23.40" y2="583.80" stroke="#000" stroke-width="0.8"/>
<text x="0" y="0" transform="translate(21.20,586.42) scale(1,1.18)" font-size="6.2" text-anchor="end" font-weight="normal" >0</text>
<line x1="23.00" y1="583.80" x2="140.40" y2="583.80" stroke="#000" stroke-width="1.3"/>
<line x1="69.20" y1="583.80" x2="69.20" y2="585.80" stroke="#000" stroke-width="0.8"/>
<text x="0" y="0" transform="translate(70.70,595.30) scale(1,1.3)" font-size="6.6" text-anchor="middle" font-weight="normal" >Day 1</text>
<line x1="115.80" y1="583.80" x2="115.80" y2="585.80" stroke="#000" stroke-width="0.8"/>
<text x="0" y="0" transform="translate(116.70,595.30) scale(1,1.3)" font-size="6.6" text-anchor="middle" font-weight="normal" >Day 2</text>
<text x="0" y="0" transform="translate(63.40,472.10) scale(1,1.12)" font-size="7.4" text-anchor="start" font-weight="normal" textLength="58.60" lengthAdjust="spacingAndGlyphs" >Donor 1 (Resting)</text>
<text x="-571.80" y="0" font-size="6.5" text-anchor="start" textLength="77.40" lengthAdjust="spacingAndGlyphs" transform="translate(5.93,0) rotate(-90)">Proliferation (% Control)</text>
<polyline points="25.00,495.60 71.30,495.60 116.50,495.60" fill="none" stroke="#000" stroke-width="1.1" stroke-linejoin="round"/>
<polyline points="25.00,495.60 71.30,484.60 116.50,489.30" fill="none" stroke="#000" stroke-width="1.1" stroke-linejoin="round"/>
<polyline points="25.00,495.60 71.30,480.60 116.50,480.60" fill="none" stroke="#000" stroke-width="1.1" stroke-linejoin="round"/>
<rect x="23.47" y="493.26" width="3.06" height="4.68" fill="#000"/>
<rect x="69.77" y="493.26" width="3.06" height="4.68" fill="#000"/>
<rect x="114.97" y="493.26" width="3.06" height="4.68" fill="#000"/>
<polygon points="25.00,492.88 26.94,497.58 23.06,497.58" fill="#000"/>
<polygon points="71.30,481.88 73.24,486.58 69.36,486.58" fill="#000"/>
<polygon points="116.50,486.58 118.44,491.28 114.56,491.28" fill="#000"/>
<ellipse cx="25.00" cy="495.60" rx="1.61" ry="2.47" fill="#000"/>
<ellipse cx="71.30" cy="480.60" rx="1.61" ry="2.47" fill="#000"/>
<ellipse cx="116.50" cy="480.60" rx="1.61" ry="2.47" fill="#000"/>
<rect x="23.30" y="493.60" width="3.4" height="4.0" fill="#000"/>
<line x1="181.20" y1="477.16" x2="181.20" y2="583.90" stroke="#000" stroke-width="1.0"/>
<line x1="179.20" y1="477.46" x2="181.20" y2="477.46" stroke="#000" stroke-width="0.8"/>
<text x="0" y="0" transform="translate(179.00,480.08) scale(1,1.18)" font-size="6.2" text-anchor="end" font-weight="normal" >120</text>
<line x1="179.20" y1="495.10" x2="181.20" y2="495.10" stroke="#000" stroke-width="0.8"/>
<text x="0" y="0" transform="translate(179.00,497.72) scale(1,1.18)" font-size="6.2" text-anchor="end" font-weight="normal" >100</text>
<line x1="179.20" y1="512.74" x2="181.20" y2="512.74" stroke="#000" stroke-width="0.8"/>
<text x="0" y="0" transform="translate(179.00,515.36) scale(1,1.18)" font-size="6.2" text-anchor="end" font-weight="normal" >80</text>
<line x1="179.20" y1="530.38" x2="181.20" y2="530.38" stroke="#000" stroke-width="0.8"/>
<text x="0" y="0" transform="translate(179.00,533.00) scale(1,1.18)" font-size="6.2" text-anchor="end" font-weight="normal" >60</text>
<line x1="179.20" y1="548.02" x2="181.20" y2="548.02" stroke="#000" stroke-width="0.8"/>
<text x="0" y="0" transform="translate(179.00,550.64) scale(1,1.18)" font-size="6.2" text-anchor="end" font-weight="normal" >40</text>
<line x1="179.20" y1="565.66" x2="181.20" y2="565.66" stroke="#000" stroke-width="0.8"/>
<text x="0" y="0" transform="translate(179.00,568.28) scale(1,1.18)" font-size="6.2" text-anchor="end" font-weight="normal" >20</text>
<line x1="179.20" y1="583.30" x2="181.20" y2="583.30" stroke="#000" stroke-width="0.8"/>
<text x="0" y="0" transform="translate(179.00,585.92) scale(1,1.18)" font-size="6.2" text-anchor="end" font-weight="normal" >0</text>
<line x1="180.80" y1="583.30" x2="298.20" y2="583.30" stroke="#000" stroke-width="1.3"/>
<line x1="227.20" y1="583.30" x2="227.20" y2="585.30" stroke="#000" stroke-width="0.8"/>
<text x="0" y="0" transform="translate(229.20,594.80) scale(1,1.3)" font-size="6.6" text-anchor="middle" font-weight="normal" >Day 1</text>
<line x1="273.30" y1="583.30" x2="273.30" y2="585.30" stroke="#000" stroke-width="0.8"/>
<text x="0" y="0" transform="translate(275.00,594.80) scale(1,1.3)" font-size="6.6" text-anchor="middle" font-weight="normal" >Day 2</text>
<text x="0" y="0" transform="translate(220.70,472.30) scale(1,1.12)" font-size="7.4" text-anchor="start" font-weight="normal" textLength="57.90" lengthAdjust="spacingAndGlyphs" >Donor 2 (Resting)</text>
<text x="-571.80" y="0" font-size="6.5" text-anchor="start" textLength="77.40" lengthAdjust="spacingAndGlyphs" transform="translate(164.74,0) rotate(-90)">Proliferation (% Control)</text>
<polyline points="183.00,494.40 228.40,494.40 273.40,494.40" fill="none" stroke="#000" stroke-width="1.1" stroke-linejoin="round"/>
<polyline points="183.00,494.40 228.40,495.20 273.40,502.50" fill="none" stroke="#000" stroke-width="1.1" stroke-linejoin="round"/>
<polyline points="183.00,494.40 228.40,498.00 273.40,500.00" fill="none" stroke="#000" stroke-width="1.1" stroke-linejoin="round"/>
<rect x="181.47" y="492.06" width="3.06" height="4.68" fill="#000"/>
<rect x="226.87" y="492.06" width="3.06" height="4.68" fill="#000"/>
<rect x="271.87" y="492.06" width="3.06" height="4.68" fill="#000"/>
<polygon points="183.00,491.68 184.94,496.38 181.06,496.38" fill="#000"/>
<polygon points="228.40,492.48 230.34,497.18 226.46,497.18" fill="#000"/>
<polygon points="273.40,499.78 275.34,504.48 271.46,504.48" fill="#000"/>
<ellipse cx="183.00" cy="494.40" rx="1.61" ry="2.47" fill="#000"/>
<ellipse cx="228.40" cy="498.00" rx="1.61" ry="2.47" fill="#000"/>
<ellipse cx="273.40" cy="500.00" rx="1.61" ry="2.47" fill="#000"/>
<rect x="181.30" y="492.40" width="3.4" height="4.0" fill="#000"/>
<line x1="338.40" y1="477.16" x2="338.40" y2="583.90" stroke="#000" stroke-width="1.0"/>
<line x1="336.40" y1="477.46" x2="338.40" y2="477.46" stroke="#000" stroke-width="0.8"/>
<text x="0" y="0" transform="translate(336.20,480.08) scale(1,1.18)" font-size="6.2" text-anchor="end" font-weight="normal" >120</text>
<line x1="336.40" y1="495.10" x2="338.40" y2="495.10" stroke="#000" stroke-width="0.8"/>
<text x="0" y="0" transform="translate(336.20,497.72) scale(1,1.18)" font-size="6.2" text-anchor="end" font-weight="normal" >100</text>
<line x1="336.40" y1="512.74" x2="338.40" y2="512.74" stroke="#000" stroke-width="0.8"/>
<text x="0" y="0" transform="translate(336.20,515.36) scale(1,1.18)" font-size="6.2" text-anchor="end" font-weight="normal" >80</text>
<line x1="336.40" y1="530.38" x2="338.40" y2="530.38" stroke="#000" stroke-width="0.8"/>
<text x="0" y="0" transform="translate(336.20,533.00) scale(1,1.18)" font-size="6.2" text-anchor="end" font-weight="normal" >60</text>
<line x1="336.40" y1="548.02" x2="338.40" y2="548.02" stroke="#000" stroke-width="0.8"/>
<text x="0" y="0" transform="translate(336.20,550.64) scale(1,1.18)" font-size="6.2" text-anchor="end" font-weight="normal" >40</text>
<line x1="336.40" y1="565.66" x2="338.40" y2="565.66" stroke="#000" stroke-width="0.8"/>
<text x="0" y="0" transform="translate(336.20,568.28) scale(1,1.18)" font-size="6.2" text-anchor="end" font-weight="normal" >20</text>
<line x1="336.40" y1="583.30" x2="338.40" y2="583.30" stroke="#000" stroke-width="0.8"/>
<text x="0" y="0" transform="translate(336.20,585.92) scale(1,1.18)" font-size="6.2" text-anchor="end" font-weight="normal" >0</text>
<line x1="338.00" y1="583.30" x2="455.50" y2="583.30" stroke="#000" stroke-width="1.3"/>
<line x1="384.30" y1="583.30" x2="384.30" y2="585.30" stroke="#000" stroke-width="0.8"/>
<text x="0" y="0" transform="translate(386.50,594.80) scale(1,1.3)" font-size="6.6" text-anchor="middle" font-weight="normal" >Day 1</text>
<line x1="430.80" y1="583.30" x2="430.80" y2="585.30" stroke="#000" stroke-width="0.8"/>
<text x="0" y="0" transform="translate(432.30,594.80) scale(1,1.3)" font-size="6.6" text-anchor="middle" font-weight="normal" >Day 2</text>
<text x="0" y="0" transform="translate(378.40,472.30) scale(1,1.12)" font-size="7.4" text-anchor="start" font-weight="normal" textLength="58.60" lengthAdjust="spacingAndGlyphs" >Donor 3 (Resting)</text>
<text x="-571.10" y="0" font-size="6.5" text-anchor="start" textLength="77.35" lengthAdjust="spacingAndGlyphs" transform="translate(321.74,0) rotate(-90)">Proliferation (% Control)</text>
<polyline points="340.60,494.40 385.80,494.40 431.30,494.40" fill="none" stroke="#000" stroke-width="1.1" stroke-linejoin="round"/>
<polyline points="340.60,494.40 385.80,505.50 431.30,502.00" fill="none" stroke="#000" stroke-width="1.1" stroke-linejoin="round"/>
<polyline points="340.60,494.40 385.80,500.30 431.30,503.30" fill="none" stroke="#000" stroke-width="1.1" stroke-linejoin="round"/>
<rect x="339.07" y="492.06" width="3.06" height="4.68" fill="#000"/>
<rect x="384.27" y="492.06" width="3.06" height="4.68" fill="#000"/>
<rect x="429.77" y="492.06" width="3.06" height="4.68" fill="#000"/>
<polygon points="340.60,491.68 342.54,496.38 338.66,496.38" fill="#000"/>
<polygon points="385.80,502.78 387.74,507.48 383.86,507.48" fill="#000"/>
<polygon points="431.30,499.28 433.24,503.98 429.36,503.98" fill="#000"/>
<ellipse cx="340.60" cy="494.40" rx="1.61" ry="2.47" fill="#000"/>
<ellipse cx="385.80" cy="500.30" rx="1.61" ry="2.47" fill="#000"/>
<ellipse cx="431.30" cy="503.30" rx="1.61" ry="2.47" fill="#000"/>
<rect x="338.90" y="492.40" width="3.4" height="4.0" fill="#000"/>
<line x1="23.40" y1="622.96" x2="23.40" y2="729.70" stroke="#000" stroke-width="1.0"/>
<line x1="21.40" y1="623.26" x2="23.40" y2="623.26" stroke="#000" stroke-width="0.8"/>
<text x="0" y="0" transform="translate(21.20,625.88) scale(1,1.18)" font-size="6.2" text-anchor="end" font-weight="normal" >120</text>
<line x1="21.40" y1="640.90" x2="23.40" y2="640.90" stroke="#000" stroke-width="0.8"/>
<text x="0" y="0" transform="translate(21.20,643.52) scale(1,1.18)" font-size="6.2" text-anchor="end" font-weight="normal" >100</text>
<line x1="21.40" y1="658.54" x2="23.40" y2="658.54" stroke="#000" stroke-width="0.8"/>
<text x="0" y="0" transform="translate(21.20,661.16) scale(1,1.18)" font-size="6.2" text-anchor="end" font-weight="normal" >80</text>
<line x1="21.40" y1="676.18" x2="23.40" y2="676.18" stroke="#000" stroke-width="0.8"/>
<text x="0" y="0" transform="translate(21.20,678.80) scale(1,1.18)" font-size="6.2" text-anchor="end" font-weight="normal" >60</text>
<line x1="21.40" y1="693.82" x2="23.40" y2="693.82" stroke="#000" stroke-width="0.8"/>
<text x="0" y="0" transform="translate(21.20,696.44) scale(1,1.18)" font-size="6.2" text-anchor="end" font-weight="normal" >40</text>
<line x1="21.40" y1="711.46" x2="23.40" y2="711.46" stroke="#000" stroke-width="0.8"/>
<text x="0" y="0" transform="translate(21.20,714.08) scale(1,1.18)" font-size="6.2" text-anchor="end" font-weight="normal" >20</text>
<line x1="21.40" y1="729.10" x2="23.40" y2="729.10" stroke="#000" stroke-width="0.8"/>
<text x="0" y="0" transform="translate(21.20,731.72) scale(1,1.18)" font-size="6.2" text-anchor="end" font-weight="normal" >0</text>
<line x1="23.00" y1="729.10" x2="140.40" y2="729.10" stroke="#000" stroke-width="1.3"/>
<line x1="69.20" y1="729.10" x2="69.20" y2="731.10" stroke="#000" stroke-width="0.8"/>
<text x="0" y="0" transform="translate(71.00,740.60) scale(1,1.3)" font-size="6.6" text-anchor="middle" font-weight="normal" >Day 1</text>
<line x1="115.30" y1="729.10" x2="115.30" y2="731.10" stroke="#000" stroke-width="0.8"/>
<text x="0" y="0" transform="translate(116.50,740.60) scale(1,1.3)" font-size="6.6" text-anchor="middle" font-weight="normal" >Day 2</text>
<text x="0" y="0" transform="translate(63.40,623.90) scale(1,1.12)" font-size="7.4" text-anchor="start" font-weight="normal" textLength="63.20" lengthAdjust="spacingAndGlyphs" >Donor 1 (Activated)</text>
<text x="-716.80" y="0" font-size="6.5" text-anchor="start" textLength="77.40" lengthAdjust="spacingAndGlyphs" transform="translate(5.93,0) rotate(-90)">Proliferation (% Control)</text>
<polyline points="25.00,640.20 70.60,641.30 115.25,640.20" fill="none" stroke="#000" stroke-width="1.1" stroke-linejoin="round"/>
<polyline points="25.00,640.20 70.60,640.00 115.25,640.50" fill="none" stroke="#000" stroke-width="1.1" stroke-linejoin="round"/>
<polyline points="25.00,640.20 70.60,634.50 115.25,630.00" fill="none" stroke="#000" stroke-width="1.1" stroke-linejoin="round"/>
<rect x="23.47" y="637.86" width="3.06" height="4.68" fill="#000"/>
<rect x="69.07" y="638.96" width="3.06" height="4.68" fill="#000"/>
<rect x="113.72" y="637.86" width="3.06" height="4.68" fill="#000"/>
<polygon points="25.00,637.48 26.94,642.18 23.06,642.18" fill="#000"/>
<polygon points="70.60,637.28 72.54,641.98 68.66,641.98" fill="#000"/>
<polygon points="115.25,637.78 117.19,642.48 113.31,642.48" fill="#000"/>
<ellipse cx="25.00" cy="640.20" rx="1.61" ry="2.47" fill="#000"/>
<ellipse cx="70.60" cy="634.50" rx="1.61" ry="2.47" fill="#000"/>
<ellipse cx="115.25" cy="630.00" rx="1.61" ry="2.47" fill="#000"/>
<rect x="23.30" y="638.20" width="3.4" height="4.0" fill="#000"/>
<line x1="181.20" y1="622.66" x2="181.20" y2="729.40" stroke="#000" stroke-width="1.0"/>
<line x1="179.20" y1="622.96" x2="181.20" y2="622.96" stroke="#000" stroke-width="0.8"/>
<text x="0" y="0" transform="translate(179.00,625.58) scale(1,1.18)" font-size="6.2" text-anchor="end" font-weight="normal" >120</text>
<line x1="179.20" y1="640.60" x2="181.20" y2="640.60" stroke="#000" stroke-width="0.8"/>
<text x="0" y="0" transform="translate(179.00,643.22) scale(1,1.18)" font-size="6.2" text-anchor="end" font-weight="normal" >100</text>
<line x1="179.20" y1="658.24" x2="181.20" y2="658.24" stroke="#000" stroke-width="0.8"/>
<text x="0" y="0" transform="translate(179.00,660.86) scale(1,1.18)" font-size="6.2" text-anchor="end" font-weight="normal" >80</text>
<line x1="179.20" y1="675.88" x2="181.20" y2="675.88" stroke="#000" stroke-width="0.8"/>
<text x="0" y="0" transform="translate(179.00,678.50) scale(1,1.18)" font-size="6.2" text-anchor="end" font-weight="normal" >60</text>
<line x1="179.20" y1="693.52" x2="181.20" y2="693.52" stroke="#000" stroke-width="0.8"/>
<text x="0" y="0" transform="translate(179.00,696.14) scale(1,1.18)" font-size="6.2" text-anchor="end" font-weight="normal" >40</text>
<line x1="179.20" y1="711.16" x2="181.20" y2="711.16" stroke="#000" stroke-width="0.8"/>
<text x="0" y="0" transform="translate(179.00,713.78) scale(1,1.18)" font-size="6.2" text-anchor="end" font-weight="normal" >20</text>
<line x1="179.20" y1="728.80" x2="181.20" y2="728.80" stroke="#000" stroke-width="0.8"/>
<text x="0" y="0" transform="translate(179.00,731.42) scale(1,1.18)" font-size="6.2" text-anchor="end" font-weight="normal" >0</text>
<line x1="180.80" y1="728.80" x2="298.20" y2="728.80" stroke="#000" stroke-width="1.3"/>
<line x1="227.20" y1="728.80" x2="227.20" y2="730.80" stroke="#000" stroke-width="0.8"/>
<text x="0" y="0" transform="translate(229.20,740.30) scale(1,1.3)" font-size="6.6" text-anchor="middle" font-weight="normal" >Day 1</text>
<line x1="273.30" y1="728.80" x2="273.30" y2="730.80" stroke="#000" stroke-width="0.8"/>
<text x="0" y="0" transform="translate(275.00,740.30) scale(1,1.3)" font-size="6.6" text-anchor="middle" font-weight="normal" >Day 2</text>
<text x="0" y="0" transform="translate(221.00,624.30) scale(1,1.12)" font-size="7.4" text-anchor="start" font-weight="normal" textLength="63.70" lengthAdjust="spacingAndGlyphs" >Donor 2 (Activated)</text>
<text x="-716.80" y="0" font-size="6.5" text-anchor="start" textLength="77.40" lengthAdjust="spacingAndGlyphs" transform="translate(164.74,0) rotate(-90)">Proliferation (% Control)</text>
<polyline points="183.60,639.60 228.70,639.60 273.70,639.60" fill="none" stroke="#000" stroke-width="1.1" stroke-linejoin="round"/>
<polyline points="183.60,639.60 228.70,648.00 273.70,641.30" fill="none" stroke="#000" stroke-width="1.1" stroke-linejoin="round"/>
<polyline points="183.60,639.60 228.70,639.80 273.70,647.00" fill="none" stroke="#000" stroke-width="1.1" stroke-linejoin="round"/>
<rect x="182.07" y="637.26" width="3.06" height="4.68" fill="#000"/>
<rect x="227.17" y="637.26" width="3.06" height="4.68" fill="#000"/>
<rect x="272.17" y="637.26" width="3.06" height="4.68" fill="#000"/>
<polygon points="183.60,636.88 185.54,641.58 181.66,641.58" fill="#000"/>
<polygon points="228.70,645.28 230.64,649.98 226.76,649.98" fill="#000"/>
<polygon points="273.70,638.58 275.64,643.28 271.76,643.28" fill="#000"/>
<ellipse cx="183.60" cy="639.60" rx="1.61" ry="2.47" fill="#000"/>
<ellipse cx="228.70" cy="639.80" rx="1.61" ry="2.47" fill="#000"/>
<ellipse cx="273.70" cy="647.00" rx="1.61" ry="2.47" fill="#000"/>
<rect x="181.90" y="637.60" width="3.4" height="4.0" fill="#000"/>
<line x1="338.40" y1="622.66" x2="338.40" y2="729.40" stroke="#000" stroke-width="1.0"/>
<line x1="336.40" y1="622.96" x2="338.40" y2="622.96" stroke="#000" stroke-width="0.8"/>
<text x="0" y="0" transform="translate(336.20,625.58) scale(1,1.18)" font-size="6.2" text-anchor="end" font-weight="normal" >120</text>
<line x1="336.40" y1="640.60" x2="338.40" y2="640.60" stroke="#000" stroke-width="0.8"/>
<text x="0" y="0" transform="translate(336.20,643.22) scale(1,1.18)" font-size="6.2" text-anchor="end" font-weight="normal" >100</text>
<line x1="336.40" y1="658.24" x2="338.40" y2="658.24" stroke="#000" stroke-width="0.8"/>
<text x="0" y="0" transform="translate(336.20,660.86) scale(1,1.18)" font-size="6.2" text-anchor="end" font-weight="normal" >80</text>
<line x1="336.40" y1="675.88" x2="338.40" y2="675.88" stroke="#000" stroke-width="0.8"/>
<text x="0" y="0" transform="translate(336.20,678.50) scale(1,1.18)" font-size="6.2" text-anchor="end" font-weight="normal" >60</text>
<line x1="336.40" y1="693.52" x2="338.40" y2="693.52" stroke="#000" stroke-width="0.8"/>
<text x="0" y="0" transform="translate(336.20,696.14) scale(1,1.18)" font-size="6.2" text-anchor="end" font-weight="normal" >40</text>
<line x1="336.40" y1="711.16" x2="338.40" y2="711.16" stroke="#000" stroke-width="0.8"/>
<text x="0" y="0" transform="translate(336.20,713.78) scale(1,1.18)" font-size="6.2" text-anchor="end" font-weight="normal" >20</text>
<line x1="336.40" y1="728.80" x2="338.40" y2="728.80" stroke="#000" stroke-width="0.8"/>
<text x="0" y="0" transform="translate(336.20,731.42) scale(1,1.18)" font-size="6.2" text-anchor="end" font-weight="normal" >0</text>
<line x1="338.00" y1="728.80" x2="455.50" y2="728.80" stroke="#000" stroke-width="1.3"/>
<line x1="384.30" y1="728.80" x2="384.30" y2="730.80" stroke="#000" stroke-width="0.8"/>
<text x="0" y="0" transform="translate(386.50,740.30) scale(1,1.3)" font-size="6.6" text-anchor="middle" font-weight="normal" >Day 1</text>
<line x1="430.80" y1="728.80" x2="430.80" y2="730.80" stroke="#000" stroke-width="0.8"/>
<text x="0" y="0" transform="translate(432.30,740.30) scale(1,1.3)" font-size="6.6" text-anchor="middle" font-weight="normal" >Day 2</text>
<text x="0" y="0" transform="translate(378.80,624.30) scale(1,1.12)" font-size="7.4" text-anchor="start" font-weight="normal" textLength="63.30" lengthAdjust="spacingAndGlyphs" >Donor 3 (Activated)</text>
<text x="-716.80" y="0" font-size="6.5" text-anchor="start" textLength="77.40" lengthAdjust="spacingAndGlyphs" transform="translate(321.74,0) rotate(-90)">Proliferation (% Control)</text>
<polyline points="341.20,639.60 386.50,639.60 431.50,639.60" fill="none" stroke="#000" stroke-width="1.1" stroke-linejoin="round"/>
<polyline points="341.20,639.60 386.50,642.50 431.50,645.50" fill="none" stroke="#000" stroke-width="1.1" stroke-linejoin="round"/>
<polyline points="341.20,639.60 386.50,631.30 431.50,646.30" fill="none" stroke="#000" stroke-width="1.1" stroke-linejoin="round"/>
<rect x="339.67" y="637.26" width="3.06" height="4.68" fill="#000"/>
<rect x="384.97" y="637.26" width="3.06" height="4.68" fill="#000"/>
<rect x="429.97" y="637.26" width="3.06" height="4.68" fill="#000"/>
<polygon points="341.20,636.88 343.14,641.58 339.26,641.58" fill="#000"/>
<polygon points="386.50,639.78 388.44,644.48 384.56,644.48" fill="#000"/>
<polygon points="431.50,642.78 433.44,647.48 429.56,647.48" fill="#000"/>
<ellipse cx="341.20" cy="639.60" rx="1.61" ry="2.47" fill="#000"/>
<ellipse cx="386.50" cy="631.30" rx="1.61" ry="2.47" fill="#000"/>
<ellipse cx="431.50" cy="646.30" rx="1.61" ry="2.47" fill="#000"/>
<rect x="339.50" y="637.60" width="3.4" height="4.0" fill="#000"/>
<line x1="463.80" y1="523.50" x2="477.30" y2="523.50" stroke="#000" stroke-width="1.2"/>
<rect x="468.15" y="521.55" width="4.30" height="3.89" fill="#000"/>
<text x="0" y="0" transform="translate(481.50,526.23) scale(1,1.15)" font-size="6.6" text-anchor="start" font-weight="normal" >0.1% DMSO</text>
<line x1="463.80" y1="537.80" x2="477.30" y2="537.80" stroke="#000" stroke-width="1.2"/>
<polygon points="470.30,535.66 472.88,539.36 467.72,539.36" fill="#000"/>
<text x="0" y="0" transform="translate(485.60,540.53) scale(1,1.15)" font-size="6.6" text-anchor="start" font-weight="normal" >5x10<tspan dy="-2.6" font-size="6.60">-6</tspan><tspan dy="2.6">M</tspan></text>
<line x1="463.80" y1="550.60" x2="477.30" y2="550.60" stroke="#000" stroke-width="1.2"/>
<ellipse cx="470.30" cy="550.60" rx="2.15" ry="1.95" fill="#000"/>
<text x="0" y="0" transform="translate(482.20,553.33) scale(1,1.15)" font-size="6.6" text-anchor="start" font-weight="normal" >10x10<tspan dy="-2.6" font-size="6.60">-6</tspan><tspan dy="2.6">M</tspan></text>
<line x1="463.80" y1="669.40" x2="477.30" y2="669.40" stroke="#000" stroke-width="1.2"/>
<rect x="468.15" y="667.45" width="4.30" height="3.89" fill="#000"/>
<text x="0" y="0" transform="translate(481.50,672.13) scale(1,1.15)" font-size="6.6" text-anchor="start" font-weight="normal" >0.1% DMSO</text>
<line x1="463.80" y1="683.50" x2="477.30" y2="683.50" stroke="#000" stroke-width="1.2"/>
<polygon points="470.30,681.36 472.88,685.06 467.72,685.06" fill="#000"/>
<text x="0" y="0" transform="translate(485.60,686.23) scale(1,1.15)" font-size="6.6" text-anchor="start" font-weight="normal" >5x10<tspan dy="-2.6" font-size="6.60">-6</tspan><tspan dy="2.6">M</tspan></text>
<line x1="463.80" y1="696.50" x2="477.30" y2="696.50" stroke="#000" stroke-width="1.2"/>
<ellipse cx="470.30" cy="696.50" rx="2.15" ry="1.95" fill="#000"/>
<text x="0" y="0" transform="translate(482.20,699.23) scale(1,1.15)" font-size="6.6" text-anchor="start" font-weight="normal" >10x10<tspan dy="-2.6" font-size="6.60">-6</tspan><tspan dy="2.6">M</tspan></text>
</g>
</svg>
</body></html>
